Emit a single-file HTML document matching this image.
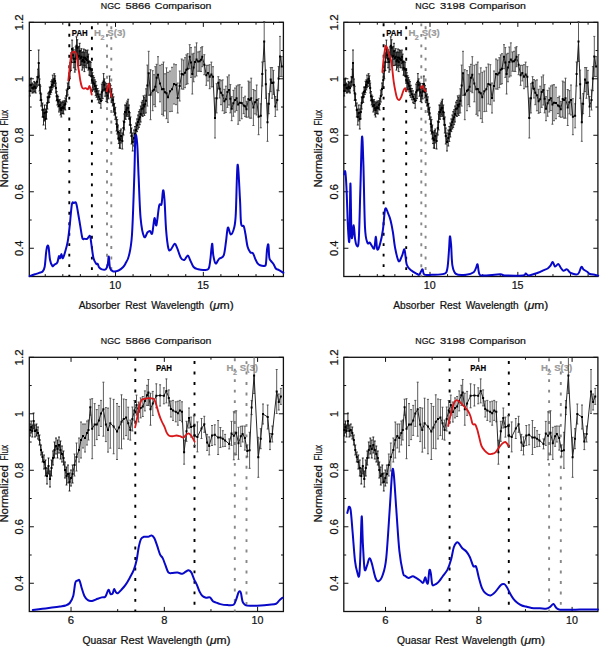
<!DOCTYPE html><html><head><meta charset="utf-8"><style>html,body{margin:0;padding:0;background:#fff;width:600px;height:646px;overflow:hidden}svg{display:block}</style></head><body><svg width="600" height="646" viewBox="0 0 600 646" font-family="Liberation Sans, sans-serif">
<rect width="600" height="646" fill="#fff"/>
<path d="M45.24 276.5v-2.4M45.24 22.3v2.4M62.8 276.5v-2.4M62.8 22.3v2.4M80.37 276.5v-2.4M80.37 22.3v2.4M97.93 276.5v-2.4M97.93 22.3v2.4M115.5 276.5v-4.6M115.5 22.3v4.6M133.07 276.5v-2.4M133.07 22.3v2.4M150.63 276.5v-2.4M150.63 22.3v2.4M168.2 276.5v-2.4M168.2 22.3v2.4M185.76 276.5v-2.4M185.76 22.3v2.4M203.33 276.5v-4.6M203.33 22.3v4.6M220.9 276.5v-2.4M220.9 22.3v2.4M238.46 276.5v-2.4M238.46 22.3v2.4M256.03 276.5v-2.4M256.03 22.3v2.4M273.59 276.5v-2.4M273.59 22.3v2.4M29.3 248.26h4.6M283.4 248.26h-4.6M29.3 220.01h2.4M283.4 220.01h-2.4M29.3 191.77h4.6M283.4 191.77h-4.6M29.3 163.52h2.4M283.4 163.52h-2.4M29.3 135.28h4.6M283.4 135.28h-4.6M29.3 107.03h2.4M283.4 107.03h-2.4M29.3 78.79h4.6M283.4 78.79h-4.6M29.3 50.54h2.4M283.4 50.54h-2.4M29.3 22.3h4.6M283.4 22.3h-4.6" stroke="#111" stroke-width="1" fill="none"/>
<rect x="29.3" y="22.3" width="254.1" height="254.2" fill="none" stroke="#111" stroke-width="1.3"/>
<text x="100.8" y="8.7" font-size="9.6" textLength="19.58" lengthAdjust="spacingAndGlyphs" fill="#111" stroke="#111" stroke-width="0.22">NGC</text>
<text x="125.55" y="8.7" font-size="9.6" textLength="24.95" lengthAdjust="spacingAndGlyphs" fill="#111" stroke="#111" stroke-width="0.22">5866</text>
<text x="154.88" y="8.7" font-size="9.6" textLength="56.47" lengthAdjust="spacingAndGlyphs" fill="#111" stroke="#111" stroke-width="0.22">Comparison</text>
<text x="78.7" y="309.2" font-size="10" textLength="41.48" lengthAdjust="spacingAndGlyphs" fill="#111" stroke="#111" stroke-width="0.22">Absorber</text>
<text x="125.18" y="309.2" font-size="10" textLength="21.08" lengthAdjust="spacingAndGlyphs" fill="#111" stroke="#111" stroke-width="0.22">Rest</text>
<text x="151.2" y="309.2" font-size="10" textLength="53.05" lengthAdjust="spacingAndGlyphs" fill="#111" stroke="#111" stroke-width="0.22">Wavelength</text>
<text x="209.19" y="309.2" font-size="10" textLength="24.48" lengthAdjust="spacingAndGlyphs" fill="#111" stroke="#111" stroke-width="0.22">(<tspan font-style="italic">μ</tspan>m)</text>
<text x="109.34" y="289.4" font-size="10.8" textLength="11.91" lengthAdjust="spacingAndGlyphs" fill="#111" stroke="#111" stroke-width="0.22">10</text>
<text x="197.17" y="289.4" font-size="10.8" textLength="11.91" lengthAdjust="spacingAndGlyphs" fill="#111" stroke="#111" stroke-width="0.22">15</text>
<text transform="rotate(-90)" x="-30.53" y="23.1" font-size="11.2" textLength="16.11" lengthAdjust="spacingAndGlyphs" fill="#111" stroke="#111" stroke-width="0.22">1.2</text>
<text transform="rotate(-90)" x="-81.94" y="23.1" font-size="11.2" textLength="5.95" lengthAdjust="spacingAndGlyphs" fill="#111" stroke="#111" stroke-width="0.22">1</text>
<text transform="rotate(-90)" x="-143.02" y="23.1" font-size="11.2" textLength="15.49" lengthAdjust="spacingAndGlyphs" fill="#111" stroke="#111" stroke-width="0.22">0.8</text>
<text transform="rotate(-90)" x="-199.51" y="23.1" font-size="11.2" textLength="15.49" lengthAdjust="spacingAndGlyphs" fill="#111" stroke="#111" stroke-width="0.22">0.6</text>
<text transform="rotate(-90)" x="-256" y="23.1" font-size="11.2" textLength="15.38" lengthAdjust="spacingAndGlyphs" fill="#111" stroke="#111" stroke-width="0.22">0.4</text>
<text transform="rotate(-90)" x="-187.61" y="7.8" font-size="10.4" textLength="57.37" lengthAdjust="spacingAndGlyphs" fill="#111" stroke="#111" stroke-width="0.22">Normalized</text>
<text transform="rotate(-90)" x="-125.46" y="7.8" font-size="10.4" textLength="15.53" lengthAdjust="spacingAndGlyphs" fill="#111" stroke="#111" stroke-width="0.22">Flux</text>
<path d="M359.74 276.5v-2.4M359.74 22.3v2.4M377.3 276.5v-2.4M377.3 22.3v2.4M394.87 276.5v-2.4M394.87 22.3v2.4M412.43 276.5v-2.4M412.43 22.3v2.4M430 276.5v-4.6M430 22.3v4.6M447.57 276.5v-2.4M447.57 22.3v2.4M465.13 276.5v-2.4M465.13 22.3v2.4M482.7 276.5v-2.4M482.7 22.3v2.4M500.26 276.5v-2.4M500.26 22.3v2.4M517.83 276.5v-4.6M517.83 22.3v4.6M535.4 276.5v-2.4M535.4 22.3v2.4M552.96 276.5v-2.4M552.96 22.3v2.4M570.53 276.5v-2.4M570.53 22.3v2.4M588.09 276.5v-2.4M588.09 22.3v2.4M343.8 248.26h4.6M597.9 248.26h-4.6M343.8 220.01h2.4M597.9 220.01h-2.4M343.8 191.77h4.6M597.9 191.77h-4.6M343.8 163.52h2.4M597.9 163.52h-2.4M343.8 135.28h4.6M597.9 135.28h-4.6M343.8 107.03h2.4M597.9 107.03h-2.4M343.8 78.79h4.6M597.9 78.79h-4.6M343.8 50.54h2.4M597.9 50.54h-2.4M343.8 22.3h4.6M597.9 22.3h-4.6" stroke="#111" stroke-width="1" fill="none"/>
<rect x="343.8" y="22.3" width="254.1" height="254.2" fill="none" stroke="#111" stroke-width="1.3"/>
<text x="415.3" y="8.7" font-size="9.6" textLength="19.58" lengthAdjust="spacingAndGlyphs" fill="#111" stroke="#111" stroke-width="0.22">NGC</text>
<text x="440.05" y="8.7" font-size="9.6" textLength="24.95" lengthAdjust="spacingAndGlyphs" fill="#111" stroke="#111" stroke-width="0.22">3198</text>
<text x="469.38" y="8.7" font-size="9.6" textLength="56.47" lengthAdjust="spacingAndGlyphs" fill="#111" stroke="#111" stroke-width="0.22">Comparison</text>
<text x="393.2" y="309.2" font-size="10" textLength="41.48" lengthAdjust="spacingAndGlyphs" fill="#111" stroke="#111" stroke-width="0.22">Absorber</text>
<text x="439.68" y="309.2" font-size="10" textLength="21.08" lengthAdjust="spacingAndGlyphs" fill="#111" stroke="#111" stroke-width="0.22">Rest</text>
<text x="465.7" y="309.2" font-size="10" textLength="53.05" lengthAdjust="spacingAndGlyphs" fill="#111" stroke="#111" stroke-width="0.22">Wavelength</text>
<text x="523.69" y="309.2" font-size="10" textLength="24.48" lengthAdjust="spacingAndGlyphs" fill="#111" stroke="#111" stroke-width="0.22">(<tspan font-style="italic">μ</tspan>m)</text>
<text x="423.84" y="289.4" font-size="10.8" textLength="11.91" lengthAdjust="spacingAndGlyphs" fill="#111" stroke="#111" stroke-width="0.22">10</text>
<text x="511.67" y="289.4" font-size="10.8" textLength="11.91" lengthAdjust="spacingAndGlyphs" fill="#111" stroke="#111" stroke-width="0.22">15</text>
<text transform="rotate(-90)" x="-30.53" y="337.6" font-size="11.2" textLength="16.11" lengthAdjust="spacingAndGlyphs" fill="#111" stroke="#111" stroke-width="0.22">1.2</text>
<text transform="rotate(-90)" x="-81.94" y="337.6" font-size="11.2" textLength="5.95" lengthAdjust="spacingAndGlyphs" fill="#111" stroke="#111" stroke-width="0.22">1</text>
<text transform="rotate(-90)" x="-143.02" y="337.6" font-size="11.2" textLength="15.49" lengthAdjust="spacingAndGlyphs" fill="#111" stroke="#111" stroke-width="0.22">0.8</text>
<text transform="rotate(-90)" x="-199.51" y="337.6" font-size="11.2" textLength="15.49" lengthAdjust="spacingAndGlyphs" fill="#111" stroke="#111" stroke-width="0.22">0.6</text>
<text transform="rotate(-90)" x="-256" y="337.6" font-size="11.2" textLength="15.38" lengthAdjust="spacingAndGlyphs" fill="#111" stroke="#111" stroke-width="0.22">0.4</text>
<text transform="rotate(-90)" x="-187.61" y="322.3" font-size="10.4" textLength="57.37" lengthAdjust="spacingAndGlyphs" fill="#111" stroke="#111" stroke-width="0.22">Normalized</text>
<text transform="rotate(-90)" x="-125.46" y="322.3" font-size="10.4" textLength="15.53" lengthAdjust="spacingAndGlyphs" fill="#111" stroke="#111" stroke-width="0.22">Flux</text>
<path d="M71.04 611.5v-4.6M71.04 357.3v4.6M117.68 611.5v-2.4M117.68 357.3v2.4M164.32 611.5v-4.6M164.32 357.3v4.6M210.96 611.5v-2.4M210.96 357.3v2.4M257.6 611.5v-4.6M257.6 357.3v4.6M29.3 583.26h4.6M283.4 583.26h-4.6M29.3 555.01h2.4M283.4 555.01h-2.4M29.3 526.77h4.6M283.4 526.77h-4.6M29.3 498.52h2.4M283.4 498.52h-2.4M29.3 470.28h4.6M283.4 470.28h-4.6M29.3 442.03h2.4M283.4 442.03h-2.4M29.3 413.79h4.6M283.4 413.79h-4.6M29.3 385.54h2.4M283.4 385.54h-2.4M29.3 357.3h4.6M283.4 357.3h-4.6" stroke="#111" stroke-width="1" fill="none"/>
<rect x="29.3" y="357.3" width="254.1" height="254.2" fill="none" stroke="#111" stroke-width="1.3"/>
<text x="100.8" y="343.7" font-size="9.6" textLength="19.58" lengthAdjust="spacingAndGlyphs" fill="#111" stroke="#111" stroke-width="0.22">NGC</text>
<text x="125.55" y="343.7" font-size="9.6" textLength="24.95" lengthAdjust="spacingAndGlyphs" fill="#111" stroke="#111" stroke-width="0.22">5866</text>
<text x="154.88" y="343.7" font-size="9.6" textLength="56.47" lengthAdjust="spacingAndGlyphs" fill="#111" stroke="#111" stroke-width="0.22">Comparison</text>
<text x="82.58" y="644.2" font-size="10" textLength="33.82" lengthAdjust="spacingAndGlyphs" fill="#111" stroke="#111" stroke-width="0.22">Quasar</text>
<text x="120.41" y="644.2" font-size="10" textLength="22.96" lengthAdjust="spacingAndGlyphs" fill="#111" stroke="#111" stroke-width="0.22">Rest</text>
<text x="147.6" y="644.2" font-size="10" textLength="54.47" lengthAdjust="spacingAndGlyphs" fill="#111" stroke="#111" stroke-width="0.22">Wavelength</text>
<text x="205.88" y="644.2" font-size="10" textLength="24.8" lengthAdjust="spacingAndGlyphs" fill="#111" stroke="#111" stroke-width="0.22">(<tspan font-style="italic">μ</tspan>m)</text>
<text x="67.87" y="624.4" font-size="10.8" textLength="6.29" lengthAdjust="spacingAndGlyphs" fill="#111" stroke="#111" stroke-width="0.22">6</text>
<text x="161.28" y="624.4" font-size="10.8" textLength="6.15" lengthAdjust="spacingAndGlyphs" fill="#111" stroke="#111" stroke-width="0.22">8</text>
<text x="251.44" y="624.4" font-size="10.8" textLength="11.91" lengthAdjust="spacingAndGlyphs" fill="#111" stroke="#111" stroke-width="0.22">10</text>
<text transform="rotate(-90)" x="-365.53" y="23.1" font-size="11.2" textLength="16.11" lengthAdjust="spacingAndGlyphs" fill="#111" stroke="#111" stroke-width="0.22">1.2</text>
<text transform="rotate(-90)" x="-416.94" y="23.1" font-size="11.2" textLength="5.95" lengthAdjust="spacingAndGlyphs" fill="#111" stroke="#111" stroke-width="0.22">1</text>
<text transform="rotate(-90)" x="-478.02" y="23.1" font-size="11.2" textLength="15.49" lengthAdjust="spacingAndGlyphs" fill="#111" stroke="#111" stroke-width="0.22">0.8</text>
<text transform="rotate(-90)" x="-534.51" y="23.1" font-size="11.2" textLength="15.49" lengthAdjust="spacingAndGlyphs" fill="#111" stroke="#111" stroke-width="0.22">0.6</text>
<text transform="rotate(-90)" x="-591" y="23.1" font-size="11.2" textLength="15.38" lengthAdjust="spacingAndGlyphs" fill="#111" stroke="#111" stroke-width="0.22">0.4</text>
<text transform="rotate(-90)" x="-522.61" y="7.8" font-size="10.4" textLength="57.37" lengthAdjust="spacingAndGlyphs" fill="#111" stroke="#111" stroke-width="0.22">Normalized</text>
<text transform="rotate(-90)" x="-460.46" y="7.8" font-size="10.4" textLength="15.53" lengthAdjust="spacingAndGlyphs" fill="#111" stroke="#111" stroke-width="0.22">Flux</text>
<path d="M385.54 611.5v-4.6M385.54 357.3v4.6M432.18 611.5v-2.4M432.18 357.3v2.4M478.82 611.5v-4.6M478.82 357.3v4.6M525.46 611.5v-2.4M525.46 357.3v2.4M572.1 611.5v-4.6M572.1 357.3v4.6M343.8 583.26h4.6M597.9 583.26h-4.6M343.8 555.01h2.4M597.9 555.01h-2.4M343.8 526.77h4.6M597.9 526.77h-4.6M343.8 498.52h2.4M597.9 498.52h-2.4M343.8 470.28h4.6M597.9 470.28h-4.6M343.8 442.03h2.4M597.9 442.03h-2.4M343.8 413.79h4.6M597.9 413.79h-4.6M343.8 385.54h2.4M597.9 385.54h-2.4M343.8 357.3h4.6M597.9 357.3h-4.6" stroke="#111" stroke-width="1" fill="none"/>
<rect x="343.8" y="357.3" width="254.1" height="254.2" fill="none" stroke="#111" stroke-width="1.3"/>
<text x="415.3" y="343.7" font-size="9.6" textLength="19.58" lengthAdjust="spacingAndGlyphs" fill="#111" stroke="#111" stroke-width="0.22">NGC</text>
<text x="440.05" y="343.7" font-size="9.6" textLength="24.95" lengthAdjust="spacingAndGlyphs" fill="#111" stroke="#111" stroke-width="0.22">3198</text>
<text x="469.38" y="343.7" font-size="9.6" textLength="56.47" lengthAdjust="spacingAndGlyphs" fill="#111" stroke="#111" stroke-width="0.22">Comparison</text>
<text x="397.08" y="644.2" font-size="10" textLength="33.82" lengthAdjust="spacingAndGlyphs" fill="#111" stroke="#111" stroke-width="0.22">Quasar</text>
<text x="434.91" y="644.2" font-size="10" textLength="22.96" lengthAdjust="spacingAndGlyphs" fill="#111" stroke="#111" stroke-width="0.22">Rest</text>
<text x="462.1" y="644.2" font-size="10" textLength="54.47" lengthAdjust="spacingAndGlyphs" fill="#111" stroke="#111" stroke-width="0.22">Wavelength</text>
<text x="520.38" y="644.2" font-size="10" textLength="24.8" lengthAdjust="spacingAndGlyphs" fill="#111" stroke="#111" stroke-width="0.22">(<tspan font-style="italic">μ</tspan>m)</text>
<text x="382.37" y="624.4" font-size="10.8" textLength="6.29" lengthAdjust="spacingAndGlyphs" fill="#111" stroke="#111" stroke-width="0.22">6</text>
<text x="475.78" y="624.4" font-size="10.8" textLength="6.15" lengthAdjust="spacingAndGlyphs" fill="#111" stroke="#111" stroke-width="0.22">8</text>
<text x="565.94" y="624.4" font-size="10.8" textLength="11.91" lengthAdjust="spacingAndGlyphs" fill="#111" stroke="#111" stroke-width="0.22">10</text>
<text transform="rotate(-90)" x="-365.53" y="337.6" font-size="11.2" textLength="16.11" lengthAdjust="spacingAndGlyphs" fill="#111" stroke="#111" stroke-width="0.22">1.2</text>
<text transform="rotate(-90)" x="-416.94" y="337.6" font-size="11.2" textLength="5.95" lengthAdjust="spacingAndGlyphs" fill="#111" stroke="#111" stroke-width="0.22">1</text>
<text transform="rotate(-90)" x="-478.02" y="337.6" font-size="11.2" textLength="15.49" lengthAdjust="spacingAndGlyphs" fill="#111" stroke="#111" stroke-width="0.22">0.8</text>
<text transform="rotate(-90)" x="-534.51" y="337.6" font-size="11.2" textLength="15.49" lengthAdjust="spacingAndGlyphs" fill="#111" stroke="#111" stroke-width="0.22">0.6</text>
<text transform="rotate(-90)" x="-591" y="337.6" font-size="11.2" textLength="15.38" lengthAdjust="spacingAndGlyphs" fill="#111" stroke="#111" stroke-width="0.22">0.4</text>
<text transform="rotate(-90)" x="-522.61" y="322.3" font-size="10.4" textLength="57.37" lengthAdjust="spacingAndGlyphs" fill="#111" stroke="#111" stroke-width="0.22">Normalized</text>
<text transform="rotate(-90)" x="-460.46" y="322.3" font-size="10.4" textLength="15.53" lengthAdjust="spacingAndGlyphs" fill="#111" stroke="#111" stroke-width="0.22">Flux</text>
<line x1="69.3" y1="22.3" x2="69.3" y2="276.5" stroke="#000" stroke-width="1.9" stroke-dasharray="2.9 7.57" stroke-dashoffset="-1.05"/>
<line x1="91.9" y1="22.3" x2="91.9" y2="276.5" stroke="#000" stroke-width="1.9" stroke-dasharray="2.9 7.57" stroke-dashoffset="-4.05"/>
<line x1="107" y1="22.3" x2="107" y2="276.5" stroke="#888" stroke-width="1.9" stroke-dasharray="2.9 7.57" stroke-dashoffset="-1.15"/>
<line x1="111.3" y1="22.3" x2="111.3" y2="276.5" stroke="#888" stroke-width="1.9" stroke-dasharray="2.9 7.57" stroke-dashoffset="-3.95"/>
<line x1="135.3" y1="357.3" x2="135.3" y2="611.5" stroke="#000" stroke-width="1.9" stroke-dasharray="2.9 7.57" stroke-dashoffset="-0.85"/>
<line x1="194.5" y1="357.3" x2="194.5" y2="611.5" stroke="#000" stroke-width="1.9" stroke-dasharray="2.9 7.57" stroke-dashoffset="-3.75"/>
<line x1="234.8" y1="357.3" x2="234.8" y2="611.5" stroke="#888" stroke-width="1.9" stroke-dasharray="2.9 7.57" stroke-dashoffset="-0.95"/>
<line x1="246.5" y1="357.3" x2="246.5" y2="611.5" stroke="#888" stroke-width="1.9" stroke-dasharray="2.9 7.57" stroke-dashoffset="-3.85"/>
<text x="71.85" y="36.3" font-size="9.3" font-weight="bold" textLength="15.87" lengthAdjust="spacingAndGlyphs" fill="#000" stroke="#000" stroke-width="0.2">PAH</text>
<text x="109.8" y="36.1" text-anchor="middle" font-size="9.6" font-weight="bold" fill="#9a9a9a" stroke="#9a9a9a" stroke-width="0.2">H<tspan font-size="7.2" dy="3.5" dx="-0.6">2</tspan><tspan dy="-3.5" dx="2.9">S(3)</tspan></text>
<text x="156.05" y="371.3" font-size="9.3" font-weight="bold" textLength="15.87" lengthAdjust="spacingAndGlyphs" fill="#000" stroke="#000" stroke-width="0.2">PAH</text>
<text x="242.3" y="371.1" text-anchor="middle" font-size="9.6" font-weight="bold" fill="#9a9a9a" stroke="#9a9a9a" stroke-width="0.2">H<tspan font-size="7.2" dy="3.5" dx="-0.6">2</tspan><tspan dy="-3.5" dx="2.9">S(3)</tspan></text>
<line x1="383.6" y1="22.3" x2="383.6" y2="276.5" stroke="#000" stroke-width="1.9" stroke-dasharray="2.9 7.57" stroke-dashoffset="-1.05"/>
<line x1="406.2" y1="22.3" x2="406.2" y2="276.5" stroke="#000" stroke-width="1.9" stroke-dasharray="2.9 7.57" stroke-dashoffset="-4.05"/>
<line x1="421.3" y1="22.3" x2="421.3" y2="276.5" stroke="#888" stroke-width="1.9" stroke-dasharray="2.9 7.57" stroke-dashoffset="-1.15"/>
<line x1="425.6" y1="22.3" x2="425.6" y2="276.5" stroke="#888" stroke-width="1.9" stroke-dasharray="2.9 7.57" stroke-dashoffset="-3.95"/>
<line x1="449.6" y1="357.3" x2="449.6" y2="611.5" stroke="#000" stroke-width="1.9" stroke-dasharray="2.9 7.57" stroke-dashoffset="-0.85"/>
<line x1="508.8" y1="357.3" x2="508.8" y2="611.5" stroke="#000" stroke-width="1.9" stroke-dasharray="2.9 7.57" stroke-dashoffset="-3.75"/>
<line x1="549.1" y1="357.3" x2="549.1" y2="611.5" stroke="#888" stroke-width="1.9" stroke-dasharray="2.9 7.57" stroke-dashoffset="-0.95"/>
<line x1="560.8" y1="357.3" x2="560.8" y2="611.5" stroke="#888" stroke-width="1.9" stroke-dasharray="2.9 7.57" stroke-dashoffset="-3.85"/>
<text x="386.15" y="36.3" font-size="9.3" font-weight="bold" textLength="15.87" lengthAdjust="spacingAndGlyphs" fill="#000" stroke="#000" stroke-width="0.2">PAH</text>
<text x="424.1" y="36.1" text-anchor="middle" font-size="9.6" font-weight="bold" fill="#9a9a9a" stroke="#9a9a9a" stroke-width="0.2">H<tspan font-size="7.2" dy="3.5" dx="-0.6">2</tspan><tspan dy="-3.5" dx="2.9">S(3)</tspan></text>
<text x="470.35" y="371.3" font-size="9.3" font-weight="bold" textLength="15.87" lengthAdjust="spacingAndGlyphs" fill="#000" stroke="#000" stroke-width="0.2">PAH</text>
<text x="556.6" y="371.1" text-anchor="middle" font-size="9.6" font-weight="bold" fill="#9a9a9a" stroke="#9a9a9a" stroke-width="0.2">H<tspan font-size="7.2" dy="3.5" dx="-0.6">2</tspan><tspan dy="-3.5" dx="2.9">S(3)</tspan></text>
<path d="M29.9 86V96M28.9 86h2M28.9 96h2M30.1 79V91M29.1 79h2M29.1 91h2M31.2 78.03V91.32M30.2 78.03h2M30.2 91.32h2M32.3 83V93M31.3 83h2M31.3 93h2M33.25 84.25V92.78M32.25 84.25h2M32.25 92.78h2M34.2 81.4V91.4M33.2 81.4h2M33.2 91.4h2M34.95 82.33V92.03M33.95 82.33h2M33.95 92.03h2M35.7 83V93M34.7 83h2M34.7 93h2M37 76.8V86.8M36 76.8h2M36 86.8h2M38 69.2V85.2M37 69.2h2M37 85.2h2M38.7 50V76M37.7 50h2M37.7 76h2M39.6 79V91M38.6 79h2M38.6 91h2M40.4 86.22V100.3M39.4 86.22h2M39.4 100.3h2M41.2 94V106M40.2 94h2M40.2 106h2M42.5 103V117M41.5 103h2M41.5 117h2M43.5 109V125M42.5 109h2M42.5 125h2M44.5 105V121M43.5 105h2M43.5 121h2M45.5 109V129M44.5 109h2M44.5 129h2M46.5 105V119M45.5 105h2M45.5 119h2M47.4 97V109M46.4 97h2M46.4 109h2M48.17 93.24V101.37M47.17 93.24h2M47.17 101.37h2M48.93 92.23V102.46M47.93 92.23h2M47.93 102.46h2M49.7 87V97M48.7 87h2M48.7 97h2M50.47 87.44V94.45M49.47 87.44h2M49.47 94.45h2M51.23 81.33V92.66M50.23 81.33h2M50.23 92.66h2M52 79.9V89.9M51 79.9h2M51 89.9h2M52.77 75.14V87.81M51.77 75.14h2M51.77 87.81h2M53.53 79.18V86.37M52.53 79.18h2M52.53 86.37h2M54.3 73.7V83.7M53.3 73.7h2M53.3 83.7h2M55.1 75.85V86.1M54.1 75.85h2M54.1 86.1h2M55.9 83V93M54.9 83h2M54.9 93h2M56.65 91.55V100.84M55.65 91.55h2M55.65 100.84h2M57.4 95V105M56.4 95h2M56.4 105h2M58.2 96.34V106.83M57.2 96.34h2M57.2 106.83h2M59 100V112M58 100h2M58 112h2M59.77 99.7V110.25M58.77 99.7h2M58.77 110.25h2M60.53 101.71V115.01M59.53 101.71h2M59.53 115.01h2M61.3 103V117M60.3 103h2M60.3 117h2M62.07 102.41V113.59M61.07 102.41h2M61.07 113.59h2M62.83 101.08V113.44M61.83 101.08h2M61.83 113.44h2M63.6 102V114M62.6 102h2M62.6 114h2M64.45 100.67V109.23M63.45 100.67h2M63.45 109.23h2M65.3 98V110M64.3 98h2M64.3 110h2M66.5 90V102M65.5 90h2M65.5 102h2M67.7 83V95M66.7 83h2M66.7 95h2M69 73V87M68 73h2M68 87h2M70 62.8V78.8M69 62.8h2M69 78.8h2M71.05 52.85V70.43M70.05 52.85h2M70.05 70.43h2M72.1 40.1V58.1M71.1 40.1h2M71.1 58.1h2M72.95 47.93V62.53M71.95 47.93h2M71.95 62.53h2M73.8 49.8V67.8M72.8 49.8h2M72.8 67.8h2M74.8 52.1V72.1M73.8 52.1h2M73.8 72.1h2M75.65 46.83V69.93M74.65 46.83h2M74.65 69.93h2M76.5 36.8V54.8M75.5 36.8h2M75.5 54.8h2M77.3 39.74V55.93M76.3 39.74h2M76.3 55.93h2M78.1 47.7V65.7M77.1 47.7h2M77.1 65.7h2M78.9 46.42V65.57M77.9 46.42h2M77.9 65.57h2M79.7 43.3V59.3M78.7 43.3h2M78.7 59.3h2M80.55 50.3V65.55M79.55 50.3h2M79.55 65.55h2M81.4 48.7V64.7M80.4 48.7h2M80.4 64.7h2M82.2 52.45V70.09M81.2 52.45h2M81.2 70.09h2M83 51.9V67.9M82 51.9h2M82 67.9h2M83.7 49.01V65.85M82.7 49.01h2M82.7 65.85h2M84.4 52.28V71.6M83.4 52.28h2M83.4 71.6h2M85.1 49.8V65.8M84.1 49.8h2M84.1 65.8h2M85.95 50.47V67.32M84.95 50.47h2M84.95 67.32h2M86.8 51.9V67.9M85.8 51.9h2M85.8 67.9h2M87.6 50.05V63.58M86.6 50.05h2M86.6 63.58h2M88.4 54.1V70.1M87.4 54.1h2M87.4 70.1h2M89.2 60.91V75.14M88.2 60.91h2M88.2 75.14h2M90 61.6V75.6M89 61.6h2M89 75.6h2M90.85 62.25V76.66M89.85 62.25h2M89.85 76.66h2M91.7 69.2V83.2M90.7 69.2h2M90.7 83.2h2M92.5 72.73V88.2M91.5 72.73h2M91.5 88.2h2M93.3 75.7V89.7M92.3 75.7h2M92.3 89.7h2M94.1 77.41V89.94M93.1 77.41h2M93.1 89.94h2M94.9 79.9V91.9M93.9 79.9h2M93.9 91.9h2M95.7 81.64V95.64M94.7 81.64h2M94.7 95.64h2M96.5 85.3V97.3M95.5 85.3h2M95.5 97.3h2M97.6 88.54V99.77M96.6 88.54h2M96.6 99.77h2M98.7 90.8V102.8M97.7 90.8h2M97.7 102.8h2M99.8 94.23V103.56M98.8 94.23h2M98.8 103.56h2M100.9 94.1V108.1M99.9 94.1h2M99.9 108.1h2M101.8 84.09V100.55M100.8 84.09h2M100.8 100.55h2M102.7 82.42V98.61M101.7 82.42h2M101.7 98.61h2M103.6 73.6V89.6M102.6 73.6h2M102.6 89.6h2M104.4 78.85V90.88M103.4 78.85h2M103.4 90.88h2M105.2 82.2V96.2M104.2 82.2h2M104.2 96.2h2M106.3 83.46V101.46M105.3 83.46h2M105.3 101.46h2M107.4 88.7V102.7M106.4 88.7h2M106.4 102.7h2M108.5 83.52V98.88M107.5 83.52h2M107.5 98.88h2M109.6 76V92M108.6 76h2M108.6 92h2M110.65 85.36V97.95M109.65 85.36h2M109.65 97.95h2M111.7 88.7V102.7M110.7 88.7h2M110.7 102.7h2M112.7 94V106M111.7 94h2M111.7 106h2M113.57 96.87V112.13M112.57 96.87h2M112.57 112.13h2M114.43 103.4V115.11M113.43 103.4h2M113.43 115.11h2M115.3 107.3V119.3M114.3 107.3h2M114.3 119.3h2M116.5 117V131M115.5 117h2M115.5 131h2M117.25 119.64V134.05M116.25 119.64h2M116.25 134.05h2M118 125V139M117 125h2M117 139h2M118.75 133.01V143.56M117.75 133.01h2M117.75 143.56h2M119.5 132V148M118.5 132h2M118.5 148h2M120.25 130.48V148.36M119.25 130.48h2M119.25 148.36h2M121 129V143M120 129h2M120 143h2M122.3 133V149M121.3 133h2M121.3 149h2M123.5 121V135M122.5 121h2M122.5 135h2M124.25 113.92V129.94M123.25 113.92h2M123.25 129.94h2M125 105V119M124 105h2M124 119h2M125.77 105.13V119.29M124.77 105.13h2M124.77 119.29h2M126.53 102.95V116.33M125.53 102.95h2M125.53 116.33h2M127.3 101V115M126.3 101h2M126.3 115h2M128.15 99.23V116.33M127.15 99.23h2M127.15 116.33h2M129 105V119M128 105h2M128 119h2M129.75 112.7V125M128.75 112.7h2M128.75 125h2M130.5 117V133M129.5 117h2M129.5 133h2M131.5 128V144M130.5 128h2M130.5 144h2M132.7 133V151M131.7 133h2M131.7 151h2M134 130V146M133 130h2M133 146h2M135 126.59V141.46M134 126.59h2M134 141.46h2M136 123V137M135 123h2M135 137h2M137 118.93V131.64M136 118.93h2M136 131.64h2M138 115V129M137 115h2M137 129h2M138.9 111.65V127.4M137.9 111.65h2M137.9 127.4h2M139.8 109.75V124.7M138.8 109.75h2M138.8 124.7h2M140.7 106V122M139.7 106h2M139.7 122h2M141.7 102.14V115.54M140.7 102.14h2M140.7 115.54h2M142.7 100.4V116.4M141.7 100.4h2M141.7 116.4h2M143.52 95.89V113.89M142.52 95.89h2M142.52 113.89h2M144.35 97.41V115.41M143.35 97.41h2M143.35 115.41h2" stroke="#111" stroke-width="0.85" fill="none"/>
<path d="M145.18 95.19V113.19M144.18 95.19h2M144.18 113.19h2M146 88.8V112.8M145 88.8h2M145 112.8h2M147.35 65.1V106.07M146.35 65.1h2M146.35 106.07h2M148.7 51.3V95.3M147.7 51.3h2M147.7 95.3h2M150.5 69.7V119.7M149.5 69.7h2M149.5 119.7h2M152.7 70.7V110.7M151.7 70.7h2M151.7 110.7h2M154 74.74V104.74M153 74.74h2M153 104.74h2M155.3 66.7V106.7M154.3 66.7h2M154.3 106.7h2M156.65 64.33V91.27M155.65 64.33h2M155.65 91.27h2M158 56.7V92.7M157 56.7h2M157 92.7h2M160 65.26V101.8M159 65.26h2M159 101.8h2M162 64.3V114.3M161 64.3h2M161 114.3h2M163.5 62.08V115.83M162.5 62.08h2M162.5 115.83h2M165 73.82V110.91M164 73.82h2M164 110.91h2M166.5 67.85V118.67M165.5 67.85h2M165.5 118.67h2M168 72.3V122.3M167 72.3h2M167 122.3h2M170 71.01V111.61M169 71.01h2M169 111.61h2M172 67.3V111.3M171 67.3h2M171 111.3h2M174 64V104M173 64h2M173 104h2M176 64.7V104.7M175 64.7h2M175 104.7h2M177.7 83V113M176.7 83h2M176.7 113h2M179.7 71V101M178.7 71h2M178.7 101h2M181.7 59V89M180.7 59h2M180.7 89h2M183.35 60.03V89.21M182.35 60.03h2M182.35 89.21h2M185 57.7V87.7M184 57.7h2M184 87.7h2M186.35 54.87V84.4M185.35 54.87h2M185.35 84.4h2M187.7 53.7V83.7M186.7 53.7h2M186.7 83.7h2M189.7 44.7V68.7M188.7 44.7h2M188.7 68.7h2M191 47.58V77.4M190 47.58h2M190 77.4h2M192.3 54V94M191.3 54h2M191.3 94h2M193.65 53.3V81.75M192.65 53.3h2M192.65 81.75h2M195 47V77M194 47h2M194 77h2M196.57 42.89V75.95M195.57 42.89h2M195.57 75.95h2M198.13 51.96V71.22M197.13 51.96h2M197.13 71.22h2M199.7 51.3V71.3M198.7 51.3h2M198.7 71.3h2M201 47.73V71.54M200 47.73h2M200 71.54h2M202.3 46.7V66.7M201.3 46.7h2M201.3 66.7h2M204.3 54.7V74.7M203.3 54.7h2M203.3 74.7h2M206.3 65.3V85.3M205.3 65.3h2M205.3 85.3h2M208 65.31V80.94M207 65.31h2M207 80.94h2M209.7 64.7V88.7M208.7 64.7h2M208.7 88.7h2M211.35 62.13V87.02M210.35 62.13h2M210.35 87.02h2M213 66.7V86.7M212 66.7h2M212 86.7h2M215 98V138M214 98h2M214 138h2M216.65 83.72V112.91M215.65 83.72h2M215.65 112.91h2M218.3 76.7V88.7M217.3 76.7h2M217.3 88.7h2M219.65 79.53V98.01M218.65 79.53h2M218.65 98.01h2M221 80.7V104.7M220 80.7h2M220 104.7h2M222.65 79.9V110.75M221.65 79.9h2M221.65 110.75h2M224.3 89.3V113.3M223.3 89.3h2M223.3 113.3h2M225.87 86.19V112.45M224.87 86.19h2M224.87 112.45h2M227.43 76.86V107.35M226.43 76.86h2M226.43 107.35h2M229 75V105M228 75h2M228 105h2M230.35 84.61V112.83M229.35 84.61h2M229.35 112.83h2M231.7 96.7V120.7M230.7 96.7h2M230.7 120.7h2M233.35 90.33V116.22M232.35 90.33h2M232.35 116.22h2M235 88V112M234 88h2M234 112h2M236.57 85.94V110.56M235.57 85.94h2M235.57 110.56h2M238.13 85V124.21M237.13 85h2M237.13 124.21h2M239.7 84.7V120.7M238.7 84.7h2M238.7 120.7h2M241.7 87.19V118.78M240.7 87.19h2M240.7 118.78h2M243.7 97.6V113.6M242.7 97.6h2M242.7 113.6h2M245.1 96.2V116.42M244.1 96.2h2M244.1 116.42h2M246.5 101.3V117.3M245.5 101.3h2M245.5 117.3h2M248.4 81.1V117.1M247.4 81.1h2M247.4 117.1h2M249.8 82.07V118.16M248.8 82.07h2M248.8 118.16h2M251.2 78.2V118.2M250.2 78.2h2M250.2 118.2h2M253.4 89.5V125.5M252.4 89.5h2M252.4 125.5h2M255.05 90.63V113.9M254.05 90.63h2M254.05 113.9h2M256.7 85V115M255.7 85h2M255.7 115h2M258.6 98.7V134.7M257.6 98.7h2M257.6 134.7h2M260.8 103.8V127.8M259.8 103.8h2M259.8 127.8h2M262.3 62V86M261.3 62h2M261.3 86h2M264.2 21.5V61.5M263.2 21.5h2M263.2 61.5h2M265.85 70.08V98.27M264.85 70.08h2M264.85 98.27h2M267.5 103.3V141.3M266.5 103.3h2M266.5 141.3h2M268.8 93.7V113.7M267.8 93.7h2M267.8 113.7h2M270.7 67.6V91.6M269.7 67.6h2M269.7 91.6h2M272.1 67.59V98.24M271.1 67.59h2M271.1 98.24h2M273.5 70.4V94.4M272.5 70.4h2M272.5 94.4h2M275.3 96.5V116.5M274.3 96.5h2M274.3 116.5h2M277.2 90V110M276.2 90h2M276.2 110h2M278.6 66.58V90.67M277.6 66.58h2M277.6 90.67h2M280 36.4V76.4M279 36.4h2M279 76.4h2M281.8 56.6V76.6M280.8 56.6h2M280.8 76.6h2" stroke="#4a4a4a" stroke-width="0.9" fill="none"/>
<polyline points="29.9,91 30.1,85 31.2,84.67 32.3,88 33.25,88.52 34.2,86.4 34.95,87.18 35.7,88 37,81.8 38,77.2 38.7,63 39.6,85 40.4,93.26 41.2,100 42.5,110 43.5,117 44.5,113 45.5,119 46.5,112 47.4,103 48.17,97.3 48.93,97.35 49.7,92 50.47,90.94 51.23,86.99 52,84.9 52.77,81.48 53.53,82.77 54.3,78.7 55.1,80.98 55.9,88 56.65,96.2 57.4,100 58.2,101.58 59,106 59.77,104.98 60.53,108.36 61.3,110 62.07,108 62.83,107.26 63.6,108 64.45,104.95 65.3,104 66.5,96 67.7,89 69,80 70,70.8 71.05,61.64 72.1,49.1 72.95,55.23 73.8,58.8 74.8,62.1 75.65,58.38 76.5,45.8 77.3,47.84 78.1,56.7 78.9,55.99 79.7,51.3 80.55,57.93 81.4,56.7 82.2,61.27 83,59.9 83.7,57.43 84.4,61.94 85.1,57.8 85.95,58.9 86.8,59.9 87.6,56.81 88.4,62.1 89.2,68.03 90,68.6 90.85,69.46 91.7,76.2 92.5,80.47 93.3,82.7 94.1,83.67 94.9,85.9 95.7,88.64 96.5,91.3 97.6,94.15 98.7,96.8 99.8,98.9 100.9,101.1 101.8,92.32 102.7,90.52 103.6,81.6 104.4,84.87 105.2,89.2 106.3,92.46 107.4,95.7 108.5,91.2 109.6,84 110.65,91.65 111.7,95.7 112.7,100 113.57,104.5 114.43,109.26 115.3,113.3 116.5,124 117.25,126.85 118,132 118.75,138.29 119.5,140 120.25,139.42 121,136 122.3,141 123.5,128 124.25,121.93 125,112 125.77,112.21 126.53,109.64 127.3,108 128.15,107.78 129,112 129.75,118.85 130.5,125 131.5,136 132.7,142 134,138 135,134.02 136,130 137,125.28 138,122 138.9,119.53 139.8,117.23 140.7,114 141.7,108.84 142.7,108.4 143.52,104.89 144.35,106.41 145.18,104.19 146,100.8 147.35,85.58 148.7,73.3 150.5,94.7 152.7,90.7 154,89.74 155.3,86.7 156.65,77.8 158,74.7 160,83.53 162,89.3 163.5,88.96 165,92.37 166.5,93.26 168,97.3 170,91.31 172,89.3 174,84 176,84.7 177.7,98 179.7,86 181.7,74 183.35,74.62 185,72.7 186.35,69.63 187.7,68.7 189.7,56.7 191,62.49 192.3,74 193.65,67.53 195,62 196.57,59.42 198.13,61.59 199.7,61.3 201,59.63 202.3,56.7 204.3,64.7 206.3,75.3 208,73.12 209.7,76.7 211.35,74.58 213,76.7 215,118 216.65,98.31 218.3,82.7 219.65,88.77 221,92.7 222.65,95.32 224.3,101.3 225.87,99.32 227.43,92.11 229,90 230.35,98.72 231.7,108.7 233.35,103.28 235,100 236.57,98.25 238.13,104.61 239.7,102.7 241.7,102.99 243.7,105.6 245.1,106.31 246.5,109.3 248.4,99.1 249.8,100.11 251.2,98.2 253.4,107.5 255.05,102.26 256.7,100 258.6,116.7 260.8,115.8 262.3,74 264.2,41.5 265.85,84.17 267.5,122.3 268.8,103.7 270.7,79.6 272.1,82.92 273.5,82.4 275.3,106.5 277.2,100 278.6,78.62 280,56.4 281.8,66.6" fill="none" stroke="#1a1a1a" stroke-width="0.95" stroke-linejoin="round"/>
<path d="M28.9 91h2M29.1 85h2M30.2 84.67h2M31.3 88h2M32.25 88.52h2M33.2 86.4h2M33.95 87.18h2M34.7 88h2M36 81.8h2M37 77.2h2M37.7 63h2M38.6 85h2M39.4 93.26h2M40.2 100h2M41.5 110h2M42.5 117h2M43.5 113h2M44.5 119h2M45.5 112h2M46.4 103h2M47.17 97.3h2M47.93 97.35h2M48.7 92h2M49.47 90.94h2M50.23 86.99h2M51 84.9h2M51.77 81.48h2M52.53 82.77h2M53.3 78.7h2M54.1 80.98h2M54.9 88h2M55.65 96.2h2M56.4 100h2M57.2 101.58h2M58 106h2M58.77 104.98h2M59.53 108.36h2M60.3 110h2M61.07 108h2M61.83 107.26h2M62.6 108h2M63.45 104.95h2M64.3 104h2M65.5 96h2M66.7 89h2M68 80h2M69 70.8h2M70.05 61.64h2M71.1 49.1h2M71.95 55.23h2M72.8 58.8h2M73.8 62.1h2M74.65 58.38h2M75.5 45.8h2M76.3 47.84h2M77.1 56.7h2M77.9 55.99h2M78.7 51.3h2M79.55 57.93h2M80.4 56.7h2M81.2 61.27h2M82 59.9h2M82.7 57.43h2M83.4 61.94h2M84.1 57.8h2M84.95 58.9h2M85.8 59.9h2M86.6 56.81h2M87.4 62.1h2M88.2 68.03h2M89 68.6h2M89.85 69.46h2M90.7 76.2h2M91.5 80.47h2M92.3 82.7h2M93.1 83.67h2M93.9 85.9h2M94.7 88.64h2M95.5 91.3h2M96.6 94.15h2M97.7 96.8h2M98.8 98.9h2M99.9 101.1h2M100.8 92.32h2M101.7 90.52h2M102.6 81.6h2M103.4 84.87h2M104.2 89.2h2M105.3 92.46h2M106.4 95.7h2M107.5 91.2h2M108.6 84h2M109.65 91.65h2M110.7 95.7h2M111.7 100h2M112.57 104.5h2M113.43 109.26h2M114.3 113.3h2M115.5 124h2M116.25 126.85h2M117 132h2M117.75 138.29h2M118.5 140h2M119.25 139.42h2M120 136h2M121.3 141h2M122.5 128h2M123.25 121.93h2M124 112h2M124.77 112.21h2M125.53 109.64h2M126.3 108h2M127.15 107.78h2M128 112h2M128.75 118.85h2M129.5 125h2M130.5 136h2M131.7 142h2M133 138h2M134 134.02h2M135 130h2M136 125.28h2M137 122h2M137.9 119.53h2M138.8 117.23h2M139.7 114h2M140.7 108.84h2M141.7 108.4h2M142.52 104.89h2M143.35 106.41h2M144.18 104.19h2M145 100.8h2M146.35 85.58h2M147.7 73.3h2M149.5 94.7h2M151.7 90.7h2M153 89.74h2M154.3 86.7h2M155.65 77.8h2M157 74.7h2M159 83.53h2M161 89.3h2M162.5 88.96h2M164 92.37h2M165.5 93.26h2M167 97.3h2M169 91.31h2M171 89.3h2M173 84h2M175 84.7h2M176.7 98h2M178.7 86h2M180.7 74h2M182.35 74.62h2M184 72.7h2M185.35 69.63h2M186.7 68.7h2M188.7 56.7h2M190 62.49h2M191.3 74h2M192.65 67.53h2M194 62h2M195.57 59.42h2M197.13 61.59h2M198.7 61.3h2M200 59.63h2M201.3 56.7h2M203.3 64.7h2M205.3 75.3h2M207 73.12h2M208.7 76.7h2M210.35 74.58h2M212 76.7h2M214 118h2M215.65 98.31h2M217.3 82.7h2M218.65 88.77h2M220 92.7h2M221.65 95.32h2M223.3 101.3h2M224.87 99.32h2M226.43 92.11h2M228 90h2M229.35 98.72h2M230.7 108.7h2M232.35 103.28h2M234 100h2M235.57 98.25h2M237.13 104.61h2M238.7 102.7h2M240.7 102.99h2M242.7 105.6h2M244.1 106.31h2M245.5 109.3h2M247.4 99.1h2M248.8 100.11h2M250.2 98.2h2M252.4 107.5h2M254.05 102.26h2M255.7 100h2M257.6 116.7h2M259.8 115.8h2M261.3 74h2M263.2 41.5h2M264.85 84.17h2M266.5 122.3h2M267.8 103.7h2M269.7 79.6h2M271.1 82.92h2M272.5 82.4h2M274.3 106.5h2M276.2 100h2M277.6 78.62h2M279 56.4h2M280.8 66.6h2" stroke="#000" stroke-width="2" fill="none"/>
<path d="M30.1 424V436M29.1 424h2M29.1 436h2M31.2 421V433M30.2 421h2M30.2 433h2M32.3 425V437M31.3 425h2M31.3 437h2M33.6 413V429M32.6 413h2M32.6 429h2M35 425V437M34 425h2M34 437h2M36.5 424V436M35.5 424h2M35.5 436h2M38 427V439M37 427h2M37 439h2M39.5 435V445M38.5 435h2M38.5 445h2M41 445V455M40 445h2M40 455h2M42.5 452V462M41.5 452h2M41.5 462h2M44 455V469M43 455h2M43 469h2M45.5 460V476M44.5 460h2M44.5 476h2M47 468V484M46 468h2M46 484h2M48.5 458V474M47.5 458h2M47.5 474h2M50 471V487M49 471h2M49 487h2M51.5 460V476M50.5 460h2M50.5 476h2M53 451V465M52 451h2M52 465h2M54.5 442V458M53.5 442h2M53.5 458h2M56 438V454M55 438h2M55 454h2M57.5 440V458M56.5 440h2M56.5 458h2M59 437V453M58 437h2M58 453h2M60.5 441V459M59.5 441h2M59.5 459h2M62 446V462M61 446h2M61 462h2M63.5 451V465M62.5 451h2M62.5 465h2M65 462V478M64 462h2M64 478h2M66.5 467V485M65.5 467h2M65.5 485h2M68 465V483M67 465h2M67 483h2M69.5 473V491M68.5 473h2M68.5 491h2M71 470V486M70 470h2M70 486h2M72.6 465V483M71.6 465h2M71.6 483h2" stroke="#111" stroke-width="0.85" fill="none"/>
<path d="M74.5 454V476M73.5 454h2M73.5 476h2M76.5 443V471M75.5 443h2M75.5 471h2M79 438V462M78 438h2M78 462h2M81 422V458M80 422h2M80 458h2M83 424V448M82 424h2M82 448h2M85 424V452M84 424h2M84 452h2M87 421V445M86 421h2M86 445h2M88.5 420V440M87.5 420h2M87.5 440h2M90.3 399.2V415.2M89.3 399.2h2M89.3 415.2h2M92.2 398.7V458.7M91.2 398.7h2M91.2 458.7h2M94.7 403.6V445.6M93.7 403.6h2M93.7 445.6h2M96.8 409.6V439.6M95.8 409.6h2M95.8 439.6h2M98.9 405.4V435.4M97.9 405.4h2M97.9 435.4h2M101 400.4V426.4M100 400.4h2M100 426.4h2M103.4 382.2V436.2M102.4 382.2h2M102.4 436.2h2M105.9 407.6V441.6M104.9 407.6h2M104.9 441.6h2M108 408.1V452.1M107 408.1h2M107 452.1h2M110.3 398.2V448.2M109.3 398.2h2M109.3 448.2h2M113.65 399.36V453.77M112.65 399.36h2M112.65 453.77h2M117 403.5V459.5M116 403.5h2M116 459.5h2M119.1 406.4V448.4M118.1 406.4h2M118.1 448.4h2M121.5 394.8V448.8M120.5 394.8h2M120.5 448.8h2M123.7 399V439M122.7 399h2M122.7 439h2M126.1 399.6V435.6M125.1 399.6h2M125.1 435.6h2M128.2 407.2V439.2M127.2 407.2h2M127.2 439.2h2M130.3 420.1V440.1M129.3 420.1h2M129.3 440.1h2M132.4 407V431M131.4 407h2M131.4 431h2M134.4 400.6V420.6M133.4 400.6h2M133.4 420.6h2M136.5 395.1V415.1M135.5 395.1h2M135.5 415.1h2M138.6 402V422M137.6 402h2M137.6 422h2M140.7 397.9V417.9M139.7 397.9h2M139.7 417.9h2M142.8 396.5V416.5M141.8 396.5h2M141.8 416.5h2M144.9 390.9V410.9M143.9 390.9h2M143.9 410.9h2M147 385.3V405.3M146 385.3h2M146 405.3h2M148.4 379.5V405.5M147.4 379.5h2M147.4 405.5h2M150.5 393.2V425.2M149.5 393.2h2M149.5 425.2h2M152.8 391.4V415.4M151.8 391.4h2M151.8 415.4h2M156.3 383.8V407.8M155.3 383.8h2M155.3 407.8h2M160.1 384.79V406.03M159.1 384.79h2M159.1 406.03h2M163.9 387.8V403.8M162.9 387.8h2M162.9 403.8h2M166.4 378.9V402.9M165.4 378.9h2M165.4 402.9h2M168.8 389.9V405.9M167.8 389.9h2M167.8 405.9h2M170.9 401V417M169.9 401h2M169.9 417h2M173 400.4V420.4M172 400.4h2M172 420.4h2M175.8 401.8V421.8M174.8 401.8h2M174.8 421.8h2M177.9 401.2V425.2M176.9 401.2h2M176.9 425.2h2M179.9 400.4V420.4M178.9 400.4h2M178.9 420.4h2M182 401.8V421.8M181 401.8h2M181 421.8h2M184.1 440.2V464.2M183.1 440.2h2M183.1 464.2h2M186.5 421.3V441.3M185.5 421.3h2M185.5 441.3h2M189 408V428M188 408h2M188 428h2M191.1 417.1V437.1M190.1 417.1h2M190.1 437.1h2M193.9 415.7V435.7M192.9 415.7h2M192.9 435.7h2M194.6 425.5V445.5M193.6 425.5h2M193.6 445.5h2M197.4 421.9V451.9M196.4 421.9h2M196.4 451.9h2M201.5 418.5V438.5M200.5 418.5h2M200.5 438.5h2M204.3 416.3V432.3M203.3 416.3h2M203.3 432.3h2M207.1 434.4V450.4M206.1 434.4h2M206.1 450.4h2M209.2 436.9V454.9M208.2 436.9h2M208.2 454.9h2M212 425.5V445.5M211 425.5h2M211 445.5h2M214.8 424.8V444.8M213.8 424.8h2M213.8 444.8h2M218.1 420.5V454.5M217.1 420.5h2M217.1 454.5h2M220.4 427.5V447.5M219.4 427.5h2M219.4 447.5h2M222.8 430.7V446.7M221.8 430.7h2M221.8 446.7h2M225.1 434.4V446.4M224.1 434.4h2M224.1 446.4h2M229.2 438.9V448.9M228.2 438.9h2M228.2 448.9h2M231.5 421.4V445.4M230.5 421.4h2M230.5 445.4h2M233.8 411.8V459.8M232.8 411.8h2M232.8 459.8h2M236.2 410.8V454.8M235.2 410.8h2M235.2 454.8h2M238.5 427.3V459.3M237.5 427.3h2M237.5 459.3h2M240.8 426.3V446.3M239.8 426.3h2M239.8 446.3h2M242.6 426V442M241.6 426h2M241.6 442h2M244.9 426.1V450.1M243.9 426.1h2M243.9 450.1h2M247.3 444.9V456.9M246.3 444.9h2M246.3 456.9h2M249.6 432.3V468.3M248.6 432.3h2M248.6 468.3h2M251.6 400.6V414.6M250.6 400.6h2M250.6 414.6h2M254.1 357.5V393.5M253.1 357.5h2M253.1 393.5h2M258.3 437.3V477.3M257.3 437.3h2M257.3 477.3h2M260.7 428.7V448.7M259.7 428.7h2M259.7 448.7h2M263 404V424M262 404h2M262 424h2M267.7 405V429M266.7 405h2M266.7 429h2M270 433.6V449.6M269 433.6h2M269 449.6h2M272.3 426V442M271.3 426h2M271.3 442h2M276.7 369.5V413.5M275.7 369.5h2M275.7 413.5h2M278.8 394V410M277.8 394h2M277.8 410h2M280.9 388.4V404.4M279.9 388.4h2M279.9 404.4h2" stroke="#4a4a4a" stroke-width="0.9" fill="none"/>
<polyline points="30.1,430 31.2,427 32.3,431 33.6,421 35,431 36.5,430 38,433 39.5,440 41,450 42.5,457 44,462 45.5,468 47,476 48.5,466 50,479 51.5,468 53,458 54.5,450 56,446 57.5,449 59,445 60.5,450 62,454 63.5,458 65,470 66.5,476 68,474 69.5,482 71,478 72.6,474 74.5,465 76.5,457 79,450 81,440 83,436 85,438 87,433 88.5,430 90.3,407.2 92.2,428.7 94.7,424.6 96.8,424.6 98.9,420.4 101,413.4 103.4,409.2 105.9,424.6 108,430.1 110.3,423.2 113.65,426.56 117,431.5 119.1,427.4 121.5,421.8 123.7,419 126.1,417.6 128.2,423.2 130.3,430.1 132.4,419 134.4,410.6 136.5,405.1 138.6,412 140.7,407.9 142.8,406.5 144.9,400.9 147,395.3 148.4,392.5 150.5,409.2 152.8,403.4 156.3,395.8 160.1,395.41 163.9,395.8 166.4,390.9 168.8,397.9 170.9,409 173,410.4 175.8,411.8 177.9,413.2 179.9,410.4 182,411.8 184.1,452.2 186.5,431.3 189,418 191.1,427.1 193.9,425.7 194.6,435.5 197.4,436.9 201.5,428.5 204.3,424.3 207.1,442.4 209.2,445.9 212,435.5 214.8,434.8 218.1,437.5 220.4,437.5 222.8,438.7 225.1,440.4 229.2,443.9 231.5,433.4 233.8,435.8 236.2,432.8 238.5,443.3 240.8,436.3 242.6,434 244.9,438.1 247.3,450.9 249.6,450.3 251.6,407.6 254.1,375.5 258.3,457.3 260.7,438.7 263,414 267.7,417 270,441.6 272.3,434 276.7,391.5 278.8,402 280.9,396.4" fill="none" stroke="#1a1a1a" stroke-width="0.95" stroke-linejoin="round"/>
<path d="M29.1 430h2M30.2 427h2M31.3 431h2M32.6 421h2M34 431h2M35.5 430h2M37 433h2M38.5 440h2M40 450h2M41.5 457h2M43 462h2M44.5 468h2M46 476h2M47.5 466h2M49 479h2M50.5 468h2M52 458h2M53.5 450h2M55 446h2M56.5 449h2M58 445h2M59.5 450h2M61 454h2M62.5 458h2M64 470h2M65.5 476h2M67 474h2M68.5 482h2M70 478h2M71.6 474h2M73.5 465h2M75.5 457h2M78 450h2M80 440h2M82 436h2M84 438h2M86 433h2M87.5 430h2M89.3 407.2h2M91.2 428.7h2M93.7 424.6h2M95.8 424.6h2M97.9 420.4h2M100 413.4h2M102.4 409.2h2M104.9 424.6h2M107 430.1h2M109.3 423.2h2M112.65 426.56h2M116 431.5h2M118.1 427.4h2M120.5 421.8h2M122.7 419h2M125.1 417.6h2M127.2 423.2h2M129.3 430.1h2M131.4 419h2M133.4 410.6h2M135.5 405.1h2M137.6 412h2M139.7 407.9h2M141.8 406.5h2M143.9 400.9h2M146 395.3h2M147.4 392.5h2M149.5 409.2h2M151.8 403.4h2M155.3 395.8h2M159.1 395.41h2M162.9 395.8h2M165.4 390.9h2M167.8 397.9h2M169.9 409h2M172 410.4h2M174.8 411.8h2M176.9 413.2h2M178.9 410.4h2M181 411.8h2M183.1 452.2h2M185.5 431.3h2M188 418h2M190.1 427.1h2M192.9 425.7h2M193.6 435.5h2M196.4 436.9h2M200.5 428.5h2M203.3 424.3h2M206.1 442.4h2M208.2 445.9h2M211 435.5h2M213.8 434.8h2M217.1 437.5h2M219.4 437.5h2M221.8 438.7h2M224.1 440.4h2M228.2 443.9h2M230.5 433.4h2M232.8 435.8h2M235.2 432.8h2M237.5 443.3h2M239.8 436.3h2M241.6 434h2M243.9 438.1h2M246.3 450.9h2M248.6 450.3h2M250.6 407.6h2M253.1 375.5h2M257.3 457.3h2M259.7 438.7h2M262 414h2M266.7 417h2M269 441.6h2M271.3 434h2M275.7 391.5h2M277.8 402h2M279.9 396.4h2" stroke="#000" stroke-width="2" fill="none"/>
<path d="M344.2 86V96M343.2 86h2M343.2 96h2M344.4 79V91M343.4 79h2M343.4 91h2M345.5 78.03V91.32M344.5 78.03h2M344.5 91.32h2M346.6 83V93M345.6 83h2M345.6 93h2M347.55 84.25V92.78M346.55 84.25h2M346.55 92.78h2M348.5 81.4V91.4M347.5 81.4h2M347.5 91.4h2M349.25 82.33V92.03M348.25 82.33h2M348.25 92.03h2M350 83V93M349 83h2M349 93h2M351.3 76.8V86.8M350.3 76.8h2M350.3 86.8h2M352.3 69.2V85.2M351.3 69.2h2M351.3 85.2h2M353 50V76M352 50h2M352 76h2M353.9 79V91M352.9 79h2M352.9 91h2M354.7 86.22V100.3M353.7 86.22h2M353.7 100.3h2M355.5 94V106M354.5 94h2M354.5 106h2M356.8 103V117M355.8 103h2M355.8 117h2M357.8 109V125M356.8 109h2M356.8 125h2M358.8 105V121M357.8 105h2M357.8 121h2M359.8 109V129M358.8 109h2M358.8 129h2M360.8 105V119M359.8 105h2M359.8 119h2M361.7 97V109M360.7 97h2M360.7 109h2M362.47 93.24V101.37M361.47 93.24h2M361.47 101.37h2M363.23 92.23V102.46M362.23 92.23h2M362.23 102.46h2M364 87V97M363 87h2M363 97h2M364.77 87.44V94.45M363.77 87.44h2M363.77 94.45h2M365.53 81.33V92.66M364.53 81.33h2M364.53 92.66h2M366.3 79.9V89.9M365.3 79.9h2M365.3 89.9h2M367.07 75.14V87.81M366.07 75.14h2M366.07 87.81h2M367.83 79.18V86.37M366.83 79.18h2M366.83 86.37h2M368.6 73.7V83.7M367.6 73.7h2M367.6 83.7h2M369.4 75.85V86.1M368.4 75.85h2M368.4 86.1h2M370.2 83V93M369.2 83h2M369.2 93h2M370.95 91.55V100.84M369.95 91.55h2M369.95 100.84h2M371.7 95V105M370.7 95h2M370.7 105h2M372.5 96.34V106.83M371.5 96.34h2M371.5 106.83h2M373.3 100V112M372.3 100h2M372.3 112h2M374.07 99.7V110.25M373.07 99.7h2M373.07 110.25h2M374.83 101.71V115.01M373.83 101.71h2M373.83 115.01h2M375.6 103V117M374.6 103h2M374.6 117h2M376.37 102.41V113.59M375.37 102.41h2M375.37 113.59h2M377.13 101.08V113.44M376.13 101.08h2M376.13 113.44h2M377.9 102V114M376.9 102h2M376.9 114h2M378.75 100.67V109.23M377.75 100.67h2M377.75 109.23h2M379.6 98V110M378.6 98h2M378.6 110h2M380.8 90V102M379.8 90h2M379.8 102h2M382 83V95M381 83h2M381 95h2M383.3 73V87M382.3 73h2M382.3 87h2M384.3 62.8V78.8M383.3 62.8h2M383.3 78.8h2M385.35 52.85V70.43M384.35 52.85h2M384.35 70.43h2M386.4 40.1V58.1M385.4 40.1h2M385.4 58.1h2M387.25 47.93V62.53M386.25 47.93h2M386.25 62.53h2M388.1 49.8V67.8M387.1 49.8h2M387.1 67.8h2M389.1 52.1V72.1M388.1 52.1h2M388.1 72.1h2M389.95 46.83V69.93M388.95 46.83h2M388.95 69.93h2M390.8 36.8V54.8M389.8 36.8h2M389.8 54.8h2M391.6 39.74V55.93M390.6 39.74h2M390.6 55.93h2M392.4 47.7V65.7M391.4 47.7h2M391.4 65.7h2M393.2 46.42V65.57M392.2 46.42h2M392.2 65.57h2M394 43.3V59.3M393 43.3h2M393 59.3h2M394.85 50.3V65.55M393.85 50.3h2M393.85 65.55h2M395.7 48.7V64.7M394.7 48.7h2M394.7 64.7h2M396.5 52.45V70.09M395.5 52.45h2M395.5 70.09h2M397.3 51.9V67.9M396.3 51.9h2M396.3 67.9h2M398 49.01V65.85M397 49.01h2M397 65.85h2M398.7 52.28V71.6M397.7 52.28h2M397.7 71.6h2M399.4 49.8V65.8M398.4 49.8h2M398.4 65.8h2M400.25 50.47V67.32M399.25 50.47h2M399.25 67.32h2M401.1 51.9V67.9M400.1 51.9h2M400.1 67.9h2M401.9 50.05V63.58M400.9 50.05h2M400.9 63.58h2M402.7 54.1V70.1M401.7 54.1h2M401.7 70.1h2M403.5 60.91V75.14M402.5 60.91h2M402.5 75.14h2M404.3 61.6V75.6M403.3 61.6h2M403.3 75.6h2M405.15 62.25V76.66M404.15 62.25h2M404.15 76.66h2M406 69.2V83.2M405 69.2h2M405 83.2h2M406.8 72.73V88.2M405.8 72.73h2M405.8 88.2h2M407.6 75.7V89.7M406.6 75.7h2M406.6 89.7h2M408.4 77.41V89.94M407.4 77.41h2M407.4 89.94h2M409.2 79.9V91.9M408.2 79.9h2M408.2 91.9h2M410 81.64V95.64M409 81.64h2M409 95.64h2M410.8 85.3V97.3M409.8 85.3h2M409.8 97.3h2M411.9 88.54V99.77M410.9 88.54h2M410.9 99.77h2M413 90.8V102.8M412 90.8h2M412 102.8h2M414.1 94.23V103.56M413.1 94.23h2M413.1 103.56h2M415.2 94.1V108.1M414.2 94.1h2M414.2 108.1h2M416.1 84.09V100.55M415.1 84.09h2M415.1 100.55h2M417 82.42V98.61M416 82.42h2M416 98.61h2M417.9 73.6V89.6M416.9 73.6h2M416.9 89.6h2M418.7 78.85V90.88M417.7 78.85h2M417.7 90.88h2M419.5 82.2V96.2M418.5 82.2h2M418.5 96.2h2M420.6 83.46V101.46M419.6 83.46h2M419.6 101.46h2M421.7 88.7V102.7M420.7 88.7h2M420.7 102.7h2M422.8 83.52V98.88M421.8 83.52h2M421.8 98.88h2M423.9 76V92M422.9 76h2M422.9 92h2M424.95 85.36V97.95M423.95 85.36h2M423.95 97.95h2M426 88.7V102.7M425 88.7h2M425 102.7h2M427 94V106M426 94h2M426 106h2M427.87 96.87V112.13M426.87 96.87h2M426.87 112.13h2M428.73 103.4V115.11M427.73 103.4h2M427.73 115.11h2M429.6 107.3V119.3M428.6 107.3h2M428.6 119.3h2M430.8 117V131M429.8 117h2M429.8 131h2M431.55 119.64V134.05M430.55 119.64h2M430.55 134.05h2M432.3 125V139M431.3 125h2M431.3 139h2M433.05 133.01V143.56M432.05 133.01h2M432.05 143.56h2M433.8 132V148M432.8 132h2M432.8 148h2M434.55 130.48V148.36M433.55 130.48h2M433.55 148.36h2M435.3 129V143M434.3 129h2M434.3 143h2M436.6 133V149M435.6 133h2M435.6 149h2M437.8 121V135M436.8 121h2M436.8 135h2M438.55 113.92V129.94M437.55 113.92h2M437.55 129.94h2M439.3 105V119M438.3 105h2M438.3 119h2M440.07 105.13V119.29M439.07 105.13h2M439.07 119.29h2M440.83 102.95V116.33M439.83 102.95h2M439.83 116.33h2M441.6 101V115M440.6 101h2M440.6 115h2M442.45 99.23V116.33M441.45 99.23h2M441.45 116.33h2M443.3 105V119M442.3 105h2M442.3 119h2M444.05 112.7V125M443.05 112.7h2M443.05 125h2M444.8 117V133M443.8 117h2M443.8 133h2M445.8 128V144M444.8 128h2M444.8 144h2M447 133V151M446 133h2M446 151h2M448.3 130V146M447.3 130h2M447.3 146h2M449.3 126.59V141.46M448.3 126.59h2M448.3 141.46h2M450.3 123V137M449.3 123h2M449.3 137h2M451.3 118.93V131.64M450.3 118.93h2M450.3 131.64h2M452.3 115V129M451.3 115h2M451.3 129h2M453.2 111.65V127.4M452.2 111.65h2M452.2 127.4h2M454.1 109.75V124.7M453.1 109.75h2M453.1 124.7h2M455 106V122M454 106h2M454 122h2M456 102.14V115.54M455 102.14h2M455 115.54h2M457 100.4V116.4M456 100.4h2M456 116.4h2M457.82 95.89V113.89M456.82 95.89h2M456.82 113.89h2M458.65 97.41V115.41M457.65 97.41h2M457.65 115.41h2" stroke="#111" stroke-width="0.85" fill="none"/>
<path d="M459.48 95.19V113.19M458.48 95.19h2M458.48 113.19h2M460.3 88.8V112.8M459.3 88.8h2M459.3 112.8h2M461.65 65.1V106.07M460.65 65.1h2M460.65 106.07h2M463 51.3V95.3M462 51.3h2M462 95.3h2M464.8 69.7V119.7M463.8 69.7h2M463.8 119.7h2M467 70.7V110.7M466 70.7h2M466 110.7h2M468.3 74.74V104.74M467.3 74.74h2M467.3 104.74h2M469.6 66.7V106.7M468.6 66.7h2M468.6 106.7h2M470.95 64.33V91.27M469.95 64.33h2M469.95 91.27h2M472.3 56.7V92.7M471.3 56.7h2M471.3 92.7h2M474.3 65.26V101.8M473.3 65.26h2M473.3 101.8h2M476.3 64.3V114.3M475.3 64.3h2M475.3 114.3h2M477.8 62.08V115.83M476.8 62.08h2M476.8 115.83h2M479.3 73.82V110.91M478.3 73.82h2M478.3 110.91h2M480.8 67.85V118.67M479.8 67.85h2M479.8 118.67h2M482.3 72.3V122.3M481.3 72.3h2M481.3 122.3h2M484.3 71.01V111.61M483.3 71.01h2M483.3 111.61h2M486.3 67.3V111.3M485.3 67.3h2M485.3 111.3h2M488.3 64V104M487.3 64h2M487.3 104h2M490.3 64.7V104.7M489.3 64.7h2M489.3 104.7h2M492 83V113M491 83h2M491 113h2M494 71V101M493 71h2M493 101h2M496 59V89M495 59h2M495 89h2M497.65 60.03V89.21M496.65 60.03h2M496.65 89.21h2M499.3 57.7V87.7M498.3 57.7h2M498.3 87.7h2M500.65 54.87V84.4M499.65 54.87h2M499.65 84.4h2M502 53.7V83.7M501 53.7h2M501 83.7h2M504 44.7V68.7M503 44.7h2M503 68.7h2M505.3 47.58V77.4M504.3 47.58h2M504.3 77.4h2M506.6 54V94M505.6 54h2M505.6 94h2M507.95 53.3V81.75M506.95 53.3h2M506.95 81.75h2M509.3 47V77M508.3 47h2M508.3 77h2M510.87 42.89V75.95M509.87 42.89h2M509.87 75.95h2M512.43 51.96V71.22M511.43 51.96h2M511.43 71.22h2M514 51.3V71.3M513 51.3h2M513 71.3h2M515.3 47.73V71.54M514.3 47.73h2M514.3 71.54h2M516.6 46.7V66.7M515.6 46.7h2M515.6 66.7h2M518.6 54.7V74.7M517.6 54.7h2M517.6 74.7h2M520.6 65.3V85.3M519.6 65.3h2M519.6 85.3h2M522.3 65.31V80.94M521.3 65.31h2M521.3 80.94h2M524 64.7V88.7M523 64.7h2M523 88.7h2M525.65 62.13V87.02M524.65 62.13h2M524.65 87.02h2M527.3 66.7V86.7M526.3 66.7h2M526.3 86.7h2M529.3 98V138M528.3 98h2M528.3 138h2M530.95 83.72V112.91M529.95 83.72h2M529.95 112.91h2M532.6 76.7V88.7M531.6 76.7h2M531.6 88.7h2M533.95 79.53V98.01M532.95 79.53h2M532.95 98.01h2M535.3 80.7V104.7M534.3 80.7h2M534.3 104.7h2M536.95 79.9V110.75M535.95 79.9h2M535.95 110.75h2M538.6 89.3V113.3M537.6 89.3h2M537.6 113.3h2M540.17 86.19V112.45M539.17 86.19h2M539.17 112.45h2M541.73 76.86V107.35M540.73 76.86h2M540.73 107.35h2M543.3 75V105M542.3 75h2M542.3 105h2M544.65 84.61V112.83M543.65 84.61h2M543.65 112.83h2M546 96.7V120.7M545 96.7h2M545 120.7h2M547.65 90.33V116.22M546.65 90.33h2M546.65 116.22h2M549.3 88V112M548.3 88h2M548.3 112h2M550.87 85.94V110.56M549.87 85.94h2M549.87 110.56h2M552.43 85V124.21M551.43 85h2M551.43 124.21h2M554 84.7V120.7M553 84.7h2M553 120.7h2M556 87.19V118.78M555 87.19h2M555 118.78h2M558 97.6V113.6M557 97.6h2M557 113.6h2M559.4 96.2V116.42M558.4 96.2h2M558.4 116.42h2M560.8 101.3V117.3M559.8 101.3h2M559.8 117.3h2M562.7 81.1V117.1M561.7 81.1h2M561.7 117.1h2M564.1 82.07V118.16M563.1 82.07h2M563.1 118.16h2M565.5 78.2V118.2M564.5 78.2h2M564.5 118.2h2M567.7 89.5V125.5M566.7 89.5h2M566.7 125.5h2M569.35 90.63V113.9M568.35 90.63h2M568.35 113.9h2M571 85V115M570 85h2M570 115h2M572.9 98.7V134.7M571.9 98.7h2M571.9 134.7h2M575.1 103.8V127.8M574.1 103.8h2M574.1 127.8h2M576.6 62V86M575.6 62h2M575.6 86h2M578.5 21.5V61.5M577.5 21.5h2M577.5 61.5h2M580.15 70.08V98.27M579.15 70.08h2M579.15 98.27h2M581.8 103.3V141.3M580.8 103.3h2M580.8 141.3h2M583.1 93.7V113.7M582.1 93.7h2M582.1 113.7h2M585 67.6V91.6M584 67.6h2M584 91.6h2M586.4 67.59V98.24M585.4 67.59h2M585.4 98.24h2M587.8 70.4V94.4M586.8 70.4h2M586.8 94.4h2M589.6 96.5V116.5M588.6 96.5h2M588.6 116.5h2M591.5 90V110M590.5 90h2M590.5 110h2M592.9 66.58V90.67M591.9 66.58h2M591.9 90.67h2M594.3 36.4V76.4M593.3 36.4h2M593.3 76.4h2M596.1 56.6V76.6M595.1 56.6h2M595.1 76.6h2" stroke="#4a4a4a" stroke-width="0.9" fill="none"/>
<polyline points="344.2,91 344.4,85 345.5,84.67 346.6,88 347.55,88.52 348.5,86.4 349.25,87.18 350,88 351.3,81.8 352.3,77.2 353,63 353.9,85 354.7,93.26 355.5,100 356.8,110 357.8,117 358.8,113 359.8,119 360.8,112 361.7,103 362.47,97.3 363.23,97.35 364,92 364.77,90.94 365.53,86.99 366.3,84.9 367.07,81.48 367.83,82.77 368.6,78.7 369.4,80.98 370.2,88 370.95,96.2 371.7,100 372.5,101.58 373.3,106 374.07,104.98 374.83,108.36 375.6,110 376.37,108 377.13,107.26 377.9,108 378.75,104.95 379.6,104 380.8,96 382,89 383.3,80 384.3,70.8 385.35,61.64 386.4,49.1 387.25,55.23 388.1,58.8 389.1,62.1 389.95,58.38 390.8,45.8 391.6,47.84 392.4,56.7 393.2,55.99 394,51.3 394.85,57.93 395.7,56.7 396.5,61.27 397.3,59.9 398,57.43 398.7,61.94 399.4,57.8 400.25,58.9 401.1,59.9 401.9,56.81 402.7,62.1 403.5,68.03 404.3,68.6 405.15,69.46 406,76.2 406.8,80.47 407.6,82.7 408.4,83.67 409.2,85.9 410,88.64 410.8,91.3 411.9,94.15 413,96.8 414.1,98.9 415.2,101.1 416.1,92.32 417,90.52 417.9,81.6 418.7,84.87 419.5,89.2 420.6,92.46 421.7,95.7 422.8,91.2 423.9,84 424.95,91.65 426,95.7 427,100 427.87,104.5 428.73,109.26 429.6,113.3 430.8,124 431.55,126.85 432.3,132 433.05,138.29 433.8,140 434.55,139.42 435.3,136 436.6,141 437.8,128 438.55,121.93 439.3,112 440.07,112.21 440.83,109.64 441.6,108 442.45,107.78 443.3,112 444.05,118.85 444.8,125 445.8,136 447,142 448.3,138 449.3,134.02 450.3,130 451.3,125.28 452.3,122 453.2,119.53 454.1,117.23 455,114 456,108.84 457,108.4 457.82,104.89 458.65,106.41 459.48,104.19 460.3,100.8 461.65,85.58 463,73.3 464.8,94.7 467,90.7 468.3,89.74 469.6,86.7 470.95,77.8 472.3,74.7 474.3,83.53 476.3,89.3 477.8,88.96 479.3,92.37 480.8,93.26 482.3,97.3 484.3,91.31 486.3,89.3 488.3,84 490.3,84.7 492,98 494,86 496,74 497.65,74.62 499.3,72.7 500.65,69.63 502,68.7 504,56.7 505.3,62.49 506.6,74 507.95,67.53 509.3,62 510.87,59.42 512.43,61.59 514,61.3 515.3,59.63 516.6,56.7 518.6,64.7 520.6,75.3 522.3,73.12 524,76.7 525.65,74.58 527.3,76.7 529.3,118 530.95,98.31 532.6,82.7 533.95,88.77 535.3,92.7 536.95,95.32 538.6,101.3 540.17,99.32 541.73,92.11 543.3,90 544.65,98.72 546,108.7 547.65,103.28 549.3,100 550.87,98.25 552.43,104.61 554,102.7 556,102.99 558,105.6 559.4,106.31 560.8,109.3 562.7,99.1 564.1,100.11 565.5,98.2 567.7,107.5 569.35,102.26 571,100 572.9,116.7 575.1,115.8 576.6,74 578.5,41.5 580.15,84.17 581.8,122.3 583.1,103.7 585,79.6 586.4,82.92 587.8,82.4 589.6,106.5 591.5,100 592.9,78.62 594.3,56.4 596.1,66.6" fill="none" stroke="#1a1a1a" stroke-width="0.95" stroke-linejoin="round"/>
<path d="M343.2 91h2M343.4 85h2M344.5 84.67h2M345.6 88h2M346.55 88.52h2M347.5 86.4h2M348.25 87.18h2M349 88h2M350.3 81.8h2M351.3 77.2h2M352 63h2M352.9 85h2M353.7 93.26h2M354.5 100h2M355.8 110h2M356.8 117h2M357.8 113h2M358.8 119h2M359.8 112h2M360.7 103h2M361.47 97.3h2M362.23 97.35h2M363 92h2M363.77 90.94h2M364.53 86.99h2M365.3 84.9h2M366.07 81.48h2M366.83 82.77h2M367.6 78.7h2M368.4 80.98h2M369.2 88h2M369.95 96.2h2M370.7 100h2M371.5 101.58h2M372.3 106h2M373.07 104.98h2M373.83 108.36h2M374.6 110h2M375.37 108h2M376.13 107.26h2M376.9 108h2M377.75 104.95h2M378.6 104h2M379.8 96h2M381 89h2M382.3 80h2M383.3 70.8h2M384.35 61.64h2M385.4 49.1h2M386.25 55.23h2M387.1 58.8h2M388.1 62.1h2M388.95 58.38h2M389.8 45.8h2M390.6 47.84h2M391.4 56.7h2M392.2 55.99h2M393 51.3h2M393.85 57.93h2M394.7 56.7h2M395.5 61.27h2M396.3 59.9h2M397 57.43h2M397.7 61.94h2M398.4 57.8h2M399.25 58.9h2M400.1 59.9h2M400.9 56.81h2M401.7 62.1h2M402.5 68.03h2M403.3 68.6h2M404.15 69.46h2M405 76.2h2M405.8 80.47h2M406.6 82.7h2M407.4 83.67h2M408.2 85.9h2M409 88.64h2M409.8 91.3h2M410.9 94.15h2M412 96.8h2M413.1 98.9h2M414.2 101.1h2M415.1 92.32h2M416 90.52h2M416.9 81.6h2M417.7 84.87h2M418.5 89.2h2M419.6 92.46h2M420.7 95.7h2M421.8 91.2h2M422.9 84h2M423.95 91.65h2M425 95.7h2M426 100h2M426.87 104.5h2M427.73 109.26h2M428.6 113.3h2M429.8 124h2M430.55 126.85h2M431.3 132h2M432.05 138.29h2M432.8 140h2M433.55 139.42h2M434.3 136h2M435.6 141h2M436.8 128h2M437.55 121.93h2M438.3 112h2M439.07 112.21h2M439.83 109.64h2M440.6 108h2M441.45 107.78h2M442.3 112h2M443.05 118.85h2M443.8 125h2M444.8 136h2M446 142h2M447.3 138h2M448.3 134.02h2M449.3 130h2M450.3 125.28h2M451.3 122h2M452.2 119.53h2M453.1 117.23h2M454 114h2M455 108.84h2M456 108.4h2M456.82 104.89h2M457.65 106.41h2M458.48 104.19h2M459.3 100.8h2M460.65 85.58h2M462 73.3h2M463.8 94.7h2M466 90.7h2M467.3 89.74h2M468.6 86.7h2M469.95 77.8h2M471.3 74.7h2M473.3 83.53h2M475.3 89.3h2M476.8 88.96h2M478.3 92.37h2M479.8 93.26h2M481.3 97.3h2M483.3 91.31h2M485.3 89.3h2M487.3 84h2M489.3 84.7h2M491 98h2M493 86h2M495 74h2M496.65 74.62h2M498.3 72.7h2M499.65 69.63h2M501 68.7h2M503 56.7h2M504.3 62.49h2M505.6 74h2M506.95 67.53h2M508.3 62h2M509.87 59.42h2M511.43 61.59h2M513 61.3h2M514.3 59.63h2M515.6 56.7h2M517.6 64.7h2M519.6 75.3h2M521.3 73.12h2M523 76.7h2M524.65 74.58h2M526.3 76.7h2M528.3 118h2M529.95 98.31h2M531.6 82.7h2M532.95 88.77h2M534.3 92.7h2M535.95 95.32h2M537.6 101.3h2M539.17 99.32h2M540.73 92.11h2M542.3 90h2M543.65 98.72h2M545 108.7h2M546.65 103.28h2M548.3 100h2M549.87 98.25h2M551.43 104.61h2M553 102.7h2M555 102.99h2M557 105.6h2M558.4 106.31h2M559.8 109.3h2M561.7 99.1h2M563.1 100.11h2M564.5 98.2h2M566.7 107.5h2M568.35 102.26h2M570 100h2M571.9 116.7h2M574.1 115.8h2M575.6 74h2M577.5 41.5h2M579.15 84.17h2M580.8 122.3h2M582.1 103.7h2M584 79.6h2M585.4 82.92h2M586.8 82.4h2M588.6 106.5h2M590.5 100h2M591.9 78.62h2M593.3 56.4h2M595.1 66.6h2" stroke="#000" stroke-width="2" fill="none"/>
<path d="M344.4 424V436M343.4 424h2M343.4 436h2M345.5 421V433M344.5 421h2M344.5 433h2M346.6 425V437M345.6 425h2M345.6 437h2M347.9 413V429M346.9 413h2M346.9 429h2M349.3 425V437M348.3 425h2M348.3 437h2M350.8 424V436M349.8 424h2M349.8 436h2M352.3 427V439M351.3 427h2M351.3 439h2M353.8 435V445M352.8 435h2M352.8 445h2M355.3 445V455M354.3 445h2M354.3 455h2M356.8 452V462M355.8 452h2M355.8 462h2M358.3 455V469M357.3 455h2M357.3 469h2M359.8 460V476M358.8 460h2M358.8 476h2M361.3 468V484M360.3 468h2M360.3 484h2M362.8 458V474M361.8 458h2M361.8 474h2M364.3 471V487M363.3 471h2M363.3 487h2M365.8 460V476M364.8 460h2M364.8 476h2M367.3 451V465M366.3 451h2M366.3 465h2M368.8 442V458M367.8 442h2M367.8 458h2M370.3 438V454M369.3 438h2M369.3 454h2M371.8 440V458M370.8 440h2M370.8 458h2M373.3 437V453M372.3 437h2M372.3 453h2M374.8 441V459M373.8 441h2M373.8 459h2M376.3 446V462M375.3 446h2M375.3 462h2M377.8 451V465M376.8 451h2M376.8 465h2M379.3 462V478M378.3 462h2M378.3 478h2M380.8 467V485M379.8 467h2M379.8 485h2M382.3 465V483M381.3 465h2M381.3 483h2M383.8 473V491M382.8 473h2M382.8 491h2M385.3 470V486M384.3 470h2M384.3 486h2M386.9 465V483M385.9 465h2M385.9 483h2" stroke="#111" stroke-width="0.85" fill="none"/>
<path d="M388.8 454V476M387.8 454h2M387.8 476h2M390.8 443V471M389.8 443h2M389.8 471h2M393.3 438V462M392.3 438h2M392.3 462h2M395.3 422V458M394.3 422h2M394.3 458h2M397.3 424V448M396.3 424h2M396.3 448h2M399.3 424V452M398.3 424h2M398.3 452h2M401.3 421V445M400.3 421h2M400.3 445h2M402.8 420V440M401.8 420h2M401.8 440h2M404.6 399.2V415.2M403.6 399.2h2M403.6 415.2h2M406.5 398.7V458.7M405.5 398.7h2M405.5 458.7h2M409 403.6V445.6M408 403.6h2M408 445.6h2M411.1 409.6V439.6M410.1 409.6h2M410.1 439.6h2M413.2 405.4V435.4M412.2 405.4h2M412.2 435.4h2M415.3 400.4V426.4M414.3 400.4h2M414.3 426.4h2M417.7 382.2V436.2M416.7 382.2h2M416.7 436.2h2M420.2 407.6V441.6M419.2 407.6h2M419.2 441.6h2M422.3 408.1V452.1M421.3 408.1h2M421.3 452.1h2M424.6 398.2V448.2M423.6 398.2h2M423.6 448.2h2M427.95 399.36V453.77M426.95 399.36h2M426.95 453.77h2M431.3 403.5V459.5M430.3 403.5h2M430.3 459.5h2M433.4 406.4V448.4M432.4 406.4h2M432.4 448.4h2M435.8 394.8V448.8M434.8 394.8h2M434.8 448.8h2M438 399V439M437 399h2M437 439h2M440.4 399.6V435.6M439.4 399.6h2M439.4 435.6h2M442.5 407.2V439.2M441.5 407.2h2M441.5 439.2h2M444.6 420.1V440.1M443.6 420.1h2M443.6 440.1h2M446.7 407V431M445.7 407h2M445.7 431h2M448.7 400.6V420.6M447.7 400.6h2M447.7 420.6h2M450.8 395.1V415.1M449.8 395.1h2M449.8 415.1h2M452.9 402V422M451.9 402h2M451.9 422h2M455 397.9V417.9M454 397.9h2M454 417.9h2M457.1 396.5V416.5M456.1 396.5h2M456.1 416.5h2M459.2 390.9V410.9M458.2 390.9h2M458.2 410.9h2M461.3 385.3V405.3M460.3 385.3h2M460.3 405.3h2M462.7 379.5V405.5M461.7 379.5h2M461.7 405.5h2M464.8 393.2V425.2M463.8 393.2h2M463.8 425.2h2M467.1 391.4V415.4M466.1 391.4h2M466.1 415.4h2M470.6 383.8V407.8M469.6 383.8h2M469.6 407.8h2M474.4 384.79V406.03M473.4 384.79h2M473.4 406.03h2M478.2 387.8V403.8M477.2 387.8h2M477.2 403.8h2M480.7 378.9V402.9M479.7 378.9h2M479.7 402.9h2M483.1 389.9V405.9M482.1 389.9h2M482.1 405.9h2M485.2 401V417M484.2 401h2M484.2 417h2M487.3 400.4V420.4M486.3 400.4h2M486.3 420.4h2M490.1 401.8V421.8M489.1 401.8h2M489.1 421.8h2M492.2 401.2V425.2M491.2 401.2h2M491.2 425.2h2M494.2 400.4V420.4M493.2 400.4h2M493.2 420.4h2M496.3 401.8V421.8M495.3 401.8h2M495.3 421.8h2M498.4 440.2V464.2M497.4 440.2h2M497.4 464.2h2M500.8 421.3V441.3M499.8 421.3h2M499.8 441.3h2M503.3 408V428M502.3 408h2M502.3 428h2M505.4 417.1V437.1M504.4 417.1h2M504.4 437.1h2M508.2 415.7V435.7M507.2 415.7h2M507.2 435.7h2M508.9 425.5V445.5M507.9 425.5h2M507.9 445.5h2M511.7 421.9V451.9M510.7 421.9h2M510.7 451.9h2M515.8 418.5V438.5M514.8 418.5h2M514.8 438.5h2M518.6 416.3V432.3M517.6 416.3h2M517.6 432.3h2M521.4 434.4V450.4M520.4 434.4h2M520.4 450.4h2M523.5 436.9V454.9M522.5 436.9h2M522.5 454.9h2M526.3 425.5V445.5M525.3 425.5h2M525.3 445.5h2M529.1 424.8V444.8M528.1 424.8h2M528.1 444.8h2M532.4 420.5V454.5M531.4 420.5h2M531.4 454.5h2M534.7 427.5V447.5M533.7 427.5h2M533.7 447.5h2M537.1 430.7V446.7M536.1 430.7h2M536.1 446.7h2M539.4 434.4V446.4M538.4 434.4h2M538.4 446.4h2M543.5 438.9V448.9M542.5 438.9h2M542.5 448.9h2M545.8 421.4V445.4M544.8 421.4h2M544.8 445.4h2M548.1 411.8V459.8M547.1 411.8h2M547.1 459.8h2M550.5 410.8V454.8M549.5 410.8h2M549.5 454.8h2M552.8 427.3V459.3M551.8 427.3h2M551.8 459.3h2M555.1 426.3V446.3M554.1 426.3h2M554.1 446.3h2M556.9 426V442M555.9 426h2M555.9 442h2M559.2 426.1V450.1M558.2 426.1h2M558.2 450.1h2M561.6 444.9V456.9M560.6 444.9h2M560.6 456.9h2M563.9 432.3V468.3M562.9 432.3h2M562.9 468.3h2M565.9 400.6V414.6M564.9 400.6h2M564.9 414.6h2M568.4 357.5V393.5M567.4 357.5h2M567.4 393.5h2M572.6 437.3V477.3M571.6 437.3h2M571.6 477.3h2M575 428.7V448.7M574 428.7h2M574 448.7h2M577.3 404V424M576.3 404h2M576.3 424h2M582 405V429M581 405h2M581 429h2M584.3 433.6V449.6M583.3 433.6h2M583.3 449.6h2M586.6 426V442M585.6 426h2M585.6 442h2M591 369.5V413.5M590 369.5h2M590 413.5h2M593.1 394V410M592.1 394h2M592.1 410h2M595.2 388.4V404.4M594.2 388.4h2M594.2 404.4h2" stroke="#4a4a4a" stroke-width="0.9" fill="none"/>
<polyline points="344.4,430 345.5,427 346.6,431 347.9,421 349.3,431 350.8,430 352.3,433 353.8,440 355.3,450 356.8,457 358.3,462 359.8,468 361.3,476 362.8,466 364.3,479 365.8,468 367.3,458 368.8,450 370.3,446 371.8,449 373.3,445 374.8,450 376.3,454 377.8,458 379.3,470 380.8,476 382.3,474 383.8,482 385.3,478 386.9,474 388.8,465 390.8,457 393.3,450 395.3,440 397.3,436 399.3,438 401.3,433 402.8,430 404.6,407.2 406.5,428.7 409,424.6 411.1,424.6 413.2,420.4 415.3,413.4 417.7,409.2 420.2,424.6 422.3,430.1 424.6,423.2 427.95,426.56 431.3,431.5 433.4,427.4 435.8,421.8 438,419 440.4,417.6 442.5,423.2 444.6,430.1 446.7,419 448.7,410.6 450.8,405.1 452.9,412 455,407.9 457.1,406.5 459.2,400.9 461.3,395.3 462.7,392.5 464.8,409.2 467.1,403.4 470.6,395.8 474.4,395.41 478.2,395.8 480.7,390.9 483.1,397.9 485.2,409 487.3,410.4 490.1,411.8 492.2,413.2 494.2,410.4 496.3,411.8 498.4,452.2 500.8,431.3 503.3,418 505.4,427.1 508.2,425.7 508.9,435.5 511.7,436.9 515.8,428.5 518.6,424.3 521.4,442.4 523.5,445.9 526.3,435.5 529.1,434.8 532.4,437.5 534.7,437.5 537.1,438.7 539.4,440.4 543.5,443.9 545.8,433.4 548.1,435.8 550.5,432.8 552.8,443.3 555.1,436.3 556.9,434 559.2,438.1 561.6,450.9 563.9,450.3 565.9,407.6 568.4,375.5 572.6,457.3 575,438.7 577.3,414 582,417 584.3,441.6 586.6,434 591,391.5 593.1,402 595.2,396.4" fill="none" stroke="#1a1a1a" stroke-width="0.95" stroke-linejoin="round"/>
<path d="M343.4 430h2M344.5 427h2M345.6 431h2M346.9 421h2M348.3 431h2M349.8 430h2M351.3 433h2M352.8 440h2M354.3 450h2M355.8 457h2M357.3 462h2M358.8 468h2M360.3 476h2M361.8 466h2M363.3 479h2M364.8 468h2M366.3 458h2M367.8 450h2M369.3 446h2M370.8 449h2M372.3 445h2M373.8 450h2M375.3 454h2M376.8 458h2M378.3 470h2M379.8 476h2M381.3 474h2M382.8 482h2M384.3 478h2M385.9 474h2M387.8 465h2M389.8 457h2M392.3 450h2M394.3 440h2M396.3 436h2M398.3 438h2M400.3 433h2M401.8 430h2M403.6 407.2h2M405.5 428.7h2M408 424.6h2M410.1 424.6h2M412.2 420.4h2M414.3 413.4h2M416.7 409.2h2M419.2 424.6h2M421.3 430.1h2M423.6 423.2h2M426.95 426.56h2M430.3 431.5h2M432.4 427.4h2M434.8 421.8h2M437 419h2M439.4 417.6h2M441.5 423.2h2M443.6 430.1h2M445.7 419h2M447.7 410.6h2M449.8 405.1h2M451.9 412h2M454 407.9h2M456.1 406.5h2M458.2 400.9h2M460.3 395.3h2M461.7 392.5h2M463.8 409.2h2M466.1 403.4h2M469.6 395.8h2M473.4 395.41h2M477.2 395.8h2M479.7 390.9h2M482.1 397.9h2M484.2 409h2M486.3 410.4h2M489.1 411.8h2M491.2 413.2h2M493.2 410.4h2M495.3 411.8h2M497.4 452.2h2M499.8 431.3h2M502.3 418h2M504.4 427.1h2M507.2 425.7h2M507.9 435.5h2M510.7 436.9h2M514.8 428.5h2M517.6 424.3h2M520.4 442.4h2M522.5 445.9h2M525.3 435.5h2M528.1 434.8h2M531.4 437.5h2M533.7 437.5h2M536.1 438.7h2M538.4 440.4h2M542.5 443.9h2M544.8 433.4h2M547.1 435.8h2M549.5 432.8h2M551.8 443.3h2M554.1 436.3h2M555.9 434h2M558.2 438.1h2M560.6 450.9h2M562.9 450.3h2M564.9 407.6h2M567.4 375.5h2M571.6 457.3h2M574 438.7h2M576.3 414h2M581 417h2M583.3 441.6h2M585.6 434h2M590 391.5h2M592.1 402h2M594.2 396.4h2" stroke="#000" stroke-width="2" fill="none"/>
<path d="M68.3 80.5C68.48 78.88 69.03 74.23 69.4 70.8C69.77 67.37 70.13 62.8 70.5 59.9C70.87 57 71.15 54.75 71.6 53.4C72.05 52.05 72.57 51.98 73.2 51.8C73.83 51.62 74.77 51.48 75.4 52.3C76.03 53.12 76.55 54.35 77 56.7C77.45 59.05 77.73 63.7 78.1 66.4C78.47 69.1 78.83 70.55 79.2 72.9C79.57 75.25 79.85 78.15 80.3 80.5C80.75 82.85 81.37 85.65 81.9 87C82.43 88.35 82.87 88.42 83.5 88.6C84.13 88.78 84.97 88 85.7 88.1C86.43 88.2 87.27 89.57 87.9 89.2C88.53 88.83 89.05 85.9 89.5 85.9C89.95 85.9 90.23 87.75 90.6 89.2C90.97 90.65 91.52 93.7 91.7 94.6" fill="none" stroke="#d8181a" stroke-width="1.85" stroke-linejoin="round" stroke-linecap="round"/>
<path d="M106.8 91.3C107.08 90.05 108.03 84.52 108.5 83.8C108.97 83.08 109.25 85.38 109.6 87C109.95 88.62 110.25 91.87 110.6 93.5C110.95 95.13 111.52 96.25 111.7 96.8" fill="none" stroke="#d8181a" stroke-width="1.85" stroke-linejoin="round" stroke-linecap="round"/>
<path d="M382.4 72C382.58 70 383.07 63.82 383.5 60C383.93 56.18 384.57 51.47 385 49.1C385.43 46.73 385.63 45.62 386.1 45.8C386.57 45.98 387.17 48.38 387.8 50.2C388.43 52.02 389.27 54.53 389.9 56.7C390.53 58.87 391.15 60.68 391.6 63.2C392.05 65.72 392.25 68.73 392.6 71.8C392.95 74.87 393.23 78.35 393.7 81.6C394.17 84.85 394.85 88.6 395.4 91.3C395.95 94 396.38 96.35 397 97.8C397.62 99.25 398.38 100.17 399.1 100C399.82 99.83 400.57 98.42 401.3 96.8C402.03 95.18 402.87 91.75 403.5 90.3C404.13 88.85 404.65 87.93 405.1 88.1C405.55 88.27 406.02 90.77 406.2 91.3" fill="none" stroke="#d8181a" stroke-width="1.85" stroke-linejoin="round" stroke-linecap="round"/>
<path d="M420.8 88.1C421.08 87.73 421.95 85.72 422.5 85.9C423.05 86.08 423.57 88.3 424.1 89.2C424.63 90.1 425.43 90.95 425.7 91.3" fill="none" stroke="#d8181a" stroke-width="1.85" stroke-linejoin="round" stroke-linecap="round"/>
<path d="M135.1 427.4C135.45 425.77 136.5 421.08 137.2 417.6C137.9 414.12 138.6 409.4 139.3 406.5C140 403.6 140.47 401.48 141.4 400.2C142.33 398.92 143.62 399.15 144.9 398.8C146.18 398.45 147.9 398.13 149.1 398.1C150.3 398.07 151.25 398.42 152.1 398.6C152.95 398.78 153.5 398.17 154.2 399.2C154.9 400.23 155.48 402.23 156.3 404.8C157.12 407.37 158.18 411.82 159.1 414.6C160.02 417.38 160.88 419.42 161.8 421.5C162.72 423.58 163.78 425.23 164.6 427.1C165.42 428.97 166 431.3 166.7 432.7C167.4 434.1 167.87 434.92 168.8 435.5C169.73 436.08 171.02 436.2 172.3 436.2C173.58 436.2 175.23 435.5 176.5 435.5C177.77 435.5 178.75 435.87 179.9 436.2C181.05 436.53 182.47 437.62 183.4 437.5C184.33 437.38 184.68 436.18 185.5 435.5C186.32 434.82 187.37 433.4 188.3 433.4C189.23 433.4 190.28 434.58 191.1 435.5C191.92 436.42 192.62 437.87 193.2 438.9C193.78 439.93 194.37 441.23 194.6 441.7" fill="none" stroke="#d8181a" stroke-width="1.85" stroke-linejoin="round" stroke-linecap="round"/>
<path d="M448.2 426C448.55 424.37 449.6 419.22 450.3 416.2C451 413.18 451.72 410.22 452.4 407.9C453.08 405.58 453.72 403.58 454.4 402.3C455.08 401.02 455.68 400.32 456.5 400.2C457.32 400.08 458.37 400.9 459.3 401.6C460.23 402.3 461.17 403.47 462.1 404.4C463.03 405.33 463.97 406.17 464.9 407.2C465.83 408.23 466.77 409.1 467.7 410.6C468.63 412.1 469.68 413.98 470.5 416.2C471.32 418.42 471.8 422.5 472.6 423.9C473.4 425.3 474.5 423.57 475.3 424.6C476.1 425.63 476.7 427.78 477.4 430.1C478.1 432.42 478.8 435.82 479.5 438.5C480.2 441.18 480.78 444.23 481.6 446.2C482.42 448.17 483.23 449.03 484.4 450.3C485.57 451.57 487.32 453.22 488.6 453.8C489.88 454.38 490.95 454.03 492.1 453.8C493.25 453.57 494.35 453.45 495.5 452.4C496.65 451.35 497.83 449 499 447.5C500.17 446 501.45 444.32 502.5 443.4C503.55 442.48 504.48 441.88 505.3 442C506.12 442.12 506.9 443.4 507.4 444.1C507.9 444.8 508.15 445.85 508.3 446.2" fill="none" stroke="#d8181a" stroke-width="1.85" stroke-linejoin="round" stroke-linecap="round"/>
<path d="M29.7 276.1C30.58 275.8 33.43 274.83 35 274.3C36.57 273.77 37.83 273.37 39.1 272.9C40.37 272.43 41.67 272.53 42.6 271.5C43.53 270.47 44.12 269.83 44.7 266.7C45.28 263.57 45.68 256.08 46.1 252.7C46.52 249.32 46.78 247.33 47.2 246.4C47.62 245.47 48.13 244.88 48.6 247.1C49.07 249.32 49.37 256.55 50 259.7C50.63 262.85 51.65 265.18 52.4 266C53.15 266.82 53.68 265.18 54.5 264.6C55.32 264.02 56.57 263.9 57.3 262.5C58.03 261.1 58.45 256.9 58.9 256.2C59.35 255.5 59.58 258.65 60 258.3C60.42 257.95 60.93 254.1 61.4 254.1C61.87 254.1 62.22 258.53 62.8 258.3C63.38 258.07 64.08 255.48 64.9 252.7C65.72 249.92 66.88 246.25 67.7 241.6C68.52 236.95 69.1 231.02 69.8 224.8C70.5 218.58 71.2 207.93 71.9 204.3C72.6 200.67 73.3 203.22 74 203C74.7 202.78 75.4 201.22 76.1 203C76.8 204.78 77.5 209.83 78.2 213.7C78.9 217.57 79.6 222.13 80.3 226.2C81 230.27 81.72 236 82.4 238.1C83.08 240.2 83.6 238.68 84.4 238.8C85.2 238.92 86.27 239.27 87.2 238.8C88.13 238.33 89.3 235.07 90 236C90.7 236.93 90.82 240.68 91.4 244.4C91.98 248.12 92.68 255.05 93.5 258.3C94.32 261.55 95.6 262.97 96.3 263.9C97 264.83 97.23 263.32 97.7 263.9C98.17 264.48 98.4 266.48 99.1 267.4C99.8 268.32 100.78 269.08 101.9 269.4C103.02 269.72 104.83 270.08 105.8 269.3C106.77 268.52 107.2 266.83 107.7 264.7C108.2 262.57 108.42 255.93 108.8 256.5C109.18 257.07 109.33 265.65 110 268.1C110.67 270.55 111.37 270.8 112.8 271.2C114.23 271.6 116.87 271.2 118.6 270.5C120.33 269.8 122.05 268.17 123.2 267C124.35 265.83 124.53 265.43 125.5 263.5C126.47 261.57 127.92 260.23 129 255.4C130.08 250.57 131.12 247.67 132 234.5C132.88 221.33 133.73 192.65 134.3 176.4C134.87 160.15 134.92 142.42 135.4 137C135.88 131.58 136.67 137.33 137.2 143.9C137.73 150.47 138.03 164.02 138.6 176.4C139.17 188.78 139.68 208.13 140.6 218.2C141.52 228.27 142.93 234.47 144.1 236.8C145.27 239.13 146.63 233.17 147.6 232.2C148.57 231.23 149.13 230.82 149.9 231C150.67 231.18 151.43 235.43 152.2 233.3C152.97 231.17 153.8 219.55 154.5 218.2C155.2 216.85 155.62 227.32 156.4 225.2C157.18 223.08 158.35 208.98 159.2 205.5C160.05 202.02 160.85 206.82 161.5 204.3C162.15 201.78 162.6 191.17 163.1 190.4C163.6 189.63 164 193.13 164.5 199.7C165 206.27 165.45 221.68 166.1 229.8C166.75 237.92 167.62 245.1 168.4 248.4C169.18 251.7 169.75 250.37 170.8 249.6C171.85 248.83 173.62 244 174.7 243.8C175.78 243.6 176.28 246.08 177.3 248.4C178.32 250.72 179.63 255.77 180.8 257.7C181.97 259.63 183.13 260.38 184.3 260C185.47 259.62 186.83 255.4 187.8 255.4C188.77 255.4 189.13 258.07 190.1 260C191.07 261.93 192.25 265.45 193.6 267C194.95 268.55 196.47 268.8 198.2 269.3C199.93 269.8 202.27 270.08 204 270C205.73 269.92 207.55 270.47 208.6 268.8C209.65 267.13 209.72 264.17 210.3 260C210.88 255.83 211.6 244.57 212.1 243.8C212.6 243.03 212.72 252.12 213.3 255.4C213.88 258.68 214.63 262.92 215.6 263.5C216.57 264.08 217.75 260.25 219.1 258.9C220.45 257.55 222.55 258.3 223.7 255.4C224.85 252.5 225.3 246.15 226 241.5C226.7 236.85 227.12 228.67 227.9 227.5C228.68 226.33 229.65 234.5 230.7 234.5C231.75 234.5 233.35 230.98 234.2 227.5C235.05 224.02 235.23 224.05 235.8 213.6C236.37 203.15 236.9 167.12 237.6 164.8C238.3 162.48 239.42 189.92 240 199.7C240.58 209.48 240.47 219.07 241.1 223.5C241.73 227.93 243.08 224.58 243.8 226.3C244.52 228.02 244.77 230.38 245.4 233.8C246.03 237.22 246.78 243.72 247.6 246.8C248.42 249.88 249.4 251.22 250.3 252.3C251.2 253.38 252.18 252.22 253 253.3C253.82 254.38 254.47 257.17 255.2 258.8C255.93 260.43 256.58 262.02 257.4 263.1C258.22 264.18 258.85 264.85 260.1 265.3C261.35 265.75 263.92 266.17 264.9 265.8C265.88 265.43 265.63 265.9 266 263.1C266.37 260.3 266.7 252.07 267.1 249C267.5 245.93 268.03 243.25 268.4 244.7C268.77 246.15 268.88 255 269.3 257.7C269.72 260.4 270.18 259.82 270.9 260.9C271.62 261.98 272.78 262.93 273.6 264.2C274.42 265.47 274.9 267.52 275.8 268.5C276.7 269.48 277.73 269.38 279 270.1C280.27 270.82 282.67 272.35 283.4 272.8" fill="none" stroke="#0808c8" stroke-width="2" stroke-linejoin="round" stroke-linecap="round"/>
<path d="M344.2 174.1C344.38 173.72 344.92 169.48 345.3 171.8C345.68 174.12 346.03 178.33 346.5 188C346.97 197.67 347.6 221.28 348.1 229.8C348.6 238.32 349.12 246.83 349.5 239.1C349.88 231.37 350.08 184.55 350.4 183.4C350.72 182.25 351.08 223.3 351.4 232.2C351.72 241.1 351.92 237.97 352.3 236.8C352.68 235.63 353.23 224.82 353.7 225.2C354.17 225.58 354.57 235.62 355.1 239.1C355.63 242.58 356.28 246.1 356.9 246.1C357.52 246.1 358.22 248.78 358.8 239.1C359.38 229.42 359.87 205.02 360.4 188C360.93 170.98 361.5 140.87 362 137C362.5 133.13 362.9 149.72 363.4 164.8C363.9 179.88 364.33 214.53 365 227.5C365.67 240.47 366.62 240.08 367.4 242.6C368.18 245.12 368.93 242.02 369.7 242.6C370.47 243.18 371.23 245.13 372 246.1C372.77 247.07 373.65 249.95 374.3 248.4C374.95 246.85 375.4 236.6 375.9 236.8C376.4 237 376.6 248.43 377.3 249.6C378 250.77 379.17 247.1 380.1 243.8C381.03 240.5 382.05 235.62 382.9 229.8C383.75 223.98 384.32 211.6 385.2 208.9C386.08 206.2 387.3 211.67 388.2 213.6C389.1 215.53 389.82 217.4 390.6 220.5C391.38 223.6 392.13 227.55 392.9 232.2C393.67 236.85 394.23 243.57 395.2 248.4C396.17 253.23 397.53 260.03 398.7 261.2C399.87 262.37 401.23 257.33 402.2 255.4C403.17 253.47 403.73 248.05 404.5 249.6C405.27 251.15 405.65 261.22 406.8 264.7C407.95 268.18 409.67 268.95 411.4 270.5C413.13 272.05 415.88 273.3 417.2 274C418.52 274.7 418.58 275.28 419.3 274.7C420.02 274.12 420.93 271.35 421.5 270.5C422.07 269.65 422.22 268.9 422.7 269.6C423.18 270.3 422.85 273.85 424.4 274.7C425.95 275.55 428.75 274.83 432 274.7C435.25 274.57 441.35 274.88 443.9 273.9C446.45 272.92 446.45 272.78 447.3 268.8C448.15 264.82 448.57 255.4 449 250C449.43 244.6 449.55 237.25 449.9 236.4C450.25 235.55 450.68 240.07 451.1 244.9C451.52 249.73 451.6 260.57 452.4 265.4C453.2 270.23 453.62 272.35 455.9 273.9C458.18 275.45 463.13 274.98 466.1 274.7C469.07 274.42 472 273.47 473.7 272.2C475.4 270.93 475.65 268.38 476.3 267.1C476.95 265.82 477.1 263.37 477.6 264.5C478.1 265.63 478.38 272.05 479.3 273.9C480.22 275.75 479.63 275.53 483.1 275.6C486.57 275.67 496.5 274.33 500.1 274.3C503.7 274.27 500.88 275.22 504.7 275.4C508.52 275.58 519.5 275.7 523 275.4C526.5 275.1 524.78 273.6 525.7 273.6C526.62 273.6 527.12 275.33 528.5 275.4C529.88 275.47 532.32 274.48 534 274C535.68 273.52 537.07 273.12 538.6 272.5C540.13 271.88 541.68 270.97 543.2 270.3C544.72 269.63 546.48 269.27 547.7 268.5C548.92 267.73 549.67 266.78 550.5 265.7C551.33 264.62 551.93 261.85 552.7 262C553.47 262.15 554.18 266.28 555.1 266.6C556.02 266.92 557.28 263.75 558.2 263.9C559.12 264.05 559.75 266.37 560.6 267.5C561.45 268.63 562.23 270.38 563.3 270.7C564.37 271.02 565.77 269.02 567 269.4C568.23 269.78 568.87 272.23 570.7 273C572.53 273.77 576.23 275 578 274C579.77 273 580.38 267.77 581.3 267C582.22 266.23 582.52 268.6 583.5 269.4C584.48 270.2 586.13 271.03 587.2 271.8C588.27 272.57 588.53 273.48 589.9 274C591.27 274.52 594.02 274.6 595.4 274.9C596.78 275.2 597.73 275.65 598.2 275.8" fill="none" stroke="#0808c8" stroke-width="2" stroke-linejoin="round" stroke-linecap="round"/>
<path d="M32.8 610C34.4 609.8 39.2 609.2 42.4 608.8C45.6 608.4 49.07 607.98 52 607.6C54.93 607.22 57.73 606.85 60 606.5C62.27 606.15 63.97 606.08 65.6 605.5C67.23 604.92 68.53 604.58 69.8 603C71.07 601.42 72.28 599.37 73.2 596C74.12 592.63 74.6 585.35 75.3 582.8C76 580.25 76.7 581.1 77.4 580.7C78.1 580.3 78.8 579.23 79.5 580.4C80.2 581.57 80.78 585.1 81.6 587.7C82.42 590.3 83.35 593.92 84.4 596C85.45 598.08 86.62 599.38 87.9 600.2C89.18 601.02 90.48 601.13 92.1 600.9C93.72 600.67 95.98 599.38 97.6 598.8C99.22 598.22 100.52 597.75 101.8 597.4C103.08 597.05 104.37 597.62 105.3 596.7C106.23 595.78 106.82 593.05 107.4 591.9C107.98 590.75 108.28 589.45 108.8 589.8C109.32 590.15 109.85 593.42 110.5 594C111.15 594.58 112.1 594.12 112.7 593.3C113.3 592.48 113.6 589.33 114.1 589.1C114.6 588.87 115.08 591.2 115.7 591.9C116.32 592.6 116.87 593.65 117.8 593.3C118.73 592.95 120.02 591.2 121.3 589.8C122.58 588.4 124.1 586.88 125.5 584.9C126.9 582.92 128.3 580.45 129.7 577.9C131.1 575.35 132.73 572.62 133.9 569.6C135.07 566.58 135.9 563.52 136.7 559.8C137.5 556.08 137.97 550.78 138.7 547.3C139.43 543.82 140.23 540.65 141.1 538.9C141.97 537.15 142.73 537.15 143.9 536.8C145.07 536.45 146.82 537.03 148.1 536.8C149.38 536.57 150.55 535.17 151.6 535.4C152.65 535.63 153.47 536.45 154.4 538.2C155.33 539.95 156.27 543.22 157.2 545.9C158.13 548.58 159.07 552.22 160 554.3C160.93 556.38 161.88 556.55 162.8 558.4C163.72 560.25 164.58 563.07 165.5 565.4C166.42 567.73 167.25 571.12 168.3 572.4C169.35 573.68 170.28 573.07 171.8 573.1C173.32 573.13 175.65 572.48 177.4 572.6C179.15 572.72 180.92 573.95 182.3 573.8C183.68 573.65 184.67 572.28 185.7 571.7C186.73 571.12 187.57 570.18 188.5 570.3C189.43 570.42 190.37 570.9 191.3 572.4C192.23 573.9 193.17 577.22 194.1 579.3C195.03 581.38 195.97 582.8 196.9 584.9C197.83 587 198.77 590.03 199.7 591.9C200.63 593.77 201.45 595.13 202.5 596.1C203.55 597.07 204.77 597.48 206 597.7C207.23 597.92 208.78 596.87 209.9 597.4C211.02 597.93 211.77 600.08 212.7 600.9C213.63 601.72 214.23 601.77 215.5 602.3C216.77 602.83 218.33 603.63 220.3 604.1C222.27 604.57 225.08 605 227.3 605.1C229.52 605.2 232.08 605.75 233.6 604.7C235.12 603.65 235.6 600.82 236.4 598.8C237.2 596.78 237.83 593.87 238.4 592.6C238.97 591.33 239.37 591.08 239.8 591.2C240.23 591.32 240.53 591.57 241 593.3C241.47 595.03 241.87 599.63 242.6 601.6C243.33 603.57 244 604.4 245.4 605.1C246.8 605.8 248.45 605.73 251 605.8C253.55 605.87 257.68 605.68 260.7 605.5C263.72 605.32 266.53 605 269.1 604.7C271.67 604.4 274.47 604.33 276.1 603.7C277.73 603.07 277.85 601.9 278.9 600.9C279.95 599.9 281.82 598.23 282.4 597.7" fill="none" stroke="#0808c8" stroke-width="2" stroke-linejoin="round" stroke-linecap="round"/>
<path d="M347.3 513C347.45 512.42 347.92 510.53 348.2 509.5C348.48 508.47 348.58 506.65 349 506.8C349.42 506.95 350.1 506.2 350.7 510.4C351.3 514.6 351.88 523.6 352.6 532C353.32 540.4 354.2 554 355 560.8C355.8 567.6 356.68 570.4 357.4 572.8C358.12 575.2 358.78 578.8 359.3 575.2C359.82 571.6 360.1 561 360.5 551.2C360.9 541.4 361.3 517.6 361.7 516.4C362.1 515.2 362.42 535.2 362.9 544C363.38 552.8 363.92 565.6 364.6 569.2C365.28 572.8 366.2 567.4 367 565.6C367.8 563.8 368.6 558.8 369.4 558.4C370.2 558 370.8 560 371.8 563.2C372.8 566.4 374.28 574.6 375.4 577.6C376.52 580.6 377.3 581.6 378.5 581.2C379.7 580.8 381.32 579 382.6 575.2C383.88 571.4 385 569.6 386.2 558.4C387.4 547.2 388.8 522.4 389.8 508C390.8 493.6 391.53 477.6 392.2 472C392.87 466.4 393.13 468.4 393.8 474.4C394.47 480.4 395.27 495.2 396.2 508C397.13 520.8 398.27 540.4 399.4 551.2C400.53 562 402.07 568.7 403 572.8C403.93 576.9 404.08 574.95 405 575.8C405.92 576.65 407.22 577.82 408.5 577.9C409.78 577.98 411.43 576.3 412.7 576.3C413.97 576.3 414.83 577.17 416.1 577.9C417.37 578.63 419.13 579.88 420.3 580.7C421.47 581.52 422.28 583.38 423.1 582.8C423.92 582.22 424.62 577.32 425.2 577.2C425.78 577.08 426.13 581.17 426.6 582.1C427.07 583.03 427.53 584.77 428 582.8C428.47 580.83 428.93 571.92 429.4 570.3C429.87 568.68 430.33 570.78 430.8 573.1C431.27 575.42 431.62 582.23 432.2 584.2C432.78 586.17 433.27 585.25 434.3 584.9C435.33 584.55 437.02 583.5 438.4 582.1C439.78 580.7 441.08 578.58 442.6 576.5C444.12 574.42 446.1 572.38 447.5 569.6C448.9 566.82 449.95 563.52 451 559.8C452.05 556.08 452.87 550.2 453.8 547.3C454.73 544.4 455.78 543.1 456.6 542.4C457.42 541.7 457.78 542.17 458.7 543.1C459.62 544.03 460.83 546.6 462.1 548C463.37 549.4 465.02 550 466.3 551.5C467.58 553 468.63 554.57 469.8 557C470.97 559.43 472.25 564.47 473.3 566.1C474.35 567.73 475.17 564.83 476.1 566.8C477.03 568.77 477.9 574.3 478.9 577.9C479.9 581.5 480.98 585.83 482.1 588.4C483.22 590.97 484.2 592.13 485.6 593.3C487 594.47 488.88 595.63 490.5 595.4C492.12 595.17 493.57 593.65 495.3 591.9C497.03 590.15 499.38 586.18 500.9 584.9C502.42 583.62 503.35 583.73 504.4 584.2C505.45 584.67 506.27 586.18 507.2 587.7C508.13 589.22 508.97 591.45 510 593.3C511.03 595.15 512.13 597.18 513.4 598.8C514.67 600.42 516.2 601.88 517.6 603C519 604.12 520.4 604.92 521.8 605.5C523.2 606.08 524.37 606.1 526 606.5C527.63 606.9 529.28 607.6 531.6 607.9C533.92 608.2 537.35 608.18 539.9 608.3C542.45 608.42 545.27 608.78 546.9 608.6C548.53 608.42 549.02 607.63 549.7 607.2C550.38 606.77 550.37 606.53 551 606C551.63 605.47 552.67 603.75 553.5 604C554.33 604.25 555.08 606.58 556 607.5C556.92 608.42 556.67 609.12 559 609.5C561.33 609.88 566.5 609.8 570 609.8C573.5 609.8 576.67 609.55 580 609.5C583.33 609.45 587 609.5 590 609.5C593 609.5 596.67 609.5 598 609.5" fill="none" stroke="#0808c8" stroke-width="2" stroke-linejoin="round" stroke-linecap="round"/>
</svg></body></html>
